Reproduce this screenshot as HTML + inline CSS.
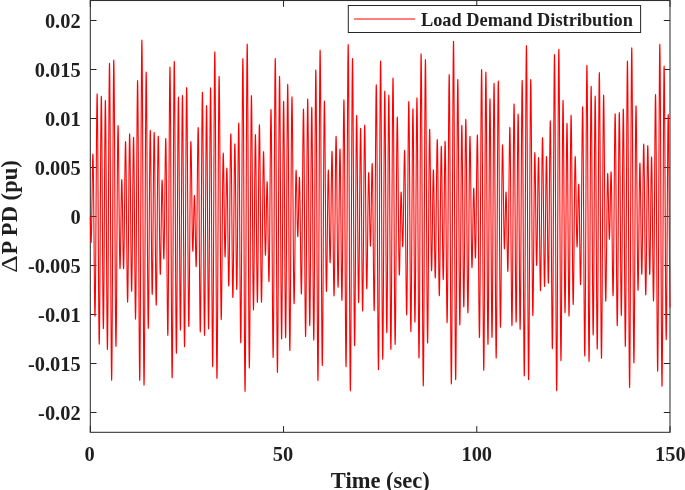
<!DOCTYPE html><html lang="en"><head><meta charset="utf-8"><title>Load Demand Distribution</title>
<style>html,body{margin:0;padding:0;background:#fff;overflow:hidden}svg{display:block}text{font-family:"Liberation Serif","Times New Roman",serif;font-weight:bold;fill:#1f1f1f}</style></head><body>
<svg width="685" height="490" viewBox="0 0 685 490">
<rect width="685" height="490" fill="#fff"/>
<rect x="90.30" y="0.55" width="579.70" height="431.75" fill="none" stroke="#262626" stroke-width="1"/>
<path d="M90.30 412.50h6.20M670.00 412.50h-6.20" stroke="#262626" stroke-width="1" fill="none"/>
<text x="80.6" y="420.10" text-anchor="end" font-size="20.4">-0.02</text>
<path d="M90.30 363.50h6.20M670.00 363.50h-6.20" stroke="#262626" stroke-width="1" fill="none"/>
<text x="80.6" y="371.10" text-anchor="end" font-size="20.4">-0.015</text>
<path d="M90.30 314.50h6.20M670.00 314.50h-6.20" stroke="#262626" stroke-width="1" fill="none"/>
<text x="80.6" y="322.10" text-anchor="end" font-size="20.4">-0.01</text>
<path d="M90.30 265.50h6.20M670.00 265.50h-6.20" stroke="#262626" stroke-width="1" fill="none"/>
<text x="80.6" y="273.10" text-anchor="end" font-size="20.4">-0.005</text>
<path d="M90.30 216.50h6.20M670.00 216.50h-6.20" stroke="#262626" stroke-width="1" fill="none"/>
<text x="80.6" y="224.10" text-anchor="end" font-size="20.4">0</text>
<path d="M90.30 167.50h6.20M670.00 167.50h-6.20" stroke="#262626" stroke-width="1" fill="none"/>
<text x="80.6" y="175.10" text-anchor="end" font-size="20.4">0.005</text>
<path d="M90.30 118.50h6.20M670.00 118.50h-6.20" stroke="#262626" stroke-width="1" fill="none"/>
<text x="80.6" y="126.10" text-anchor="end" font-size="20.4">0.01</text>
<path d="M90.30 69.50h6.20M670.00 69.50h-6.20" stroke="#262626" stroke-width="1" fill="none"/>
<text x="80.6" y="77.10" text-anchor="end" font-size="20.4">0.015</text>
<path d="M90.30 20.50h6.20M670.00 20.50h-6.20" stroke="#262626" stroke-width="1" fill="none"/>
<text x="80.6" y="28.10" text-anchor="end" font-size="20.4">0.02</text>
<path d="M90.30 432.30v-6.20M90.30 0.55v6.20" stroke="#262626" stroke-width="1" fill="none"/>
<text x="89.60" y="460.5" text-anchor="middle" font-size="20.4">0</text>
<path d="M283.53 432.30v-6.20M283.53 0.55v6.20" stroke="#262626" stroke-width="1" fill="none"/>
<text x="283.03" y="460.5" text-anchor="middle" font-size="20.4">50</text>
<path d="M476.77 432.30v-6.20M476.77 0.55v6.20" stroke="#262626" stroke-width="1" fill="none"/>
<text x="476.77" y="460.5" text-anchor="middle" font-size="20.4">100</text>
<path d="M670.00 432.30v-6.20M670.00 0.55v6.20" stroke="#262626" stroke-width="1" fill="none"/>
<text x="670.40" y="460.5" text-anchor="middle" font-size="20.4">150</text>
<polyline fill="none" stroke="#ff0000" stroke-width="1.08" stroke-linejoin="round" points="90.30,216.43 90.38,220.42 90.45,224.32 90.53,228.04 90.61,231.49 90.69,234.60 90.76,237.28 90.84,239.47 90.92,241.10 91.00,242.14 91.07,242.54 91.15,242.28 91.23,241.34 91.30,239.72 91.38,237.43 91.46,234.50 91.54,230.96 91.61,226.87 91.69,222.27 91.77,217.24 91.85,211.86 91.92,206.22 92.00,200.41 92.08,194.53 92.16,188.68 92.23,182.97 92.31,177.51 92.39,172.39 92.46,167.73 92.54,163.60 92.62,160.12 92.70,157.35 92.77,155.36 92.85,154.23 92.93,153.99 93.01,154.68 93.08,156.32 93.16,158.93 93.24,162.49 93.31,166.98 93.39,172.36 93.47,178.58 93.55,185.58 93.62,193.26 93.70,201.55 93.78,210.33 93.86,219.50 93.93,228.93 94.01,238.49 94.09,248.05 94.16,257.47 94.24,266.62 94.32,275.36 94.40,283.55 94.47,291.08 94.55,297.81 94.63,303.64 94.71,308.46 94.78,312.20 94.86,314.76 94.94,316.09 95.01,316.15 95.09,314.92 95.17,312.37 95.25,308.53 95.32,303.42 95.40,297.08 95.48,289.58 95.56,281.01 95.63,271.45 95.71,261.01 95.79,249.84 95.87,238.05 95.94,225.80 96.02,213.25 96.10,200.55 96.17,187.88 96.25,175.40 96.33,163.27 96.41,151.67 96.48,140.76 96.56,130.68 96.64,121.58 96.72,113.58 96.79,106.81 96.87,101.37 96.95,97.34 97.02,94.79 97.10,93.76 97.18,94.29 97.26,96.37 97.33,100.01 97.41,105.15 97.49,111.74 97.57,119.71 97.64,128.96 97.72,139.39 97.80,150.85 97.87,163.21 97.95,176.31 98.03,189.98 98.11,204.04 98.18,218.31 98.26,232.61 98.34,246.74 98.42,260.53 98.49,273.78 98.57,286.31 98.65,297.98 98.72,308.60 98.80,318.05 98.88,326.19 98.96,332.91 99.03,338.13 99.11,341.76 99.19,343.76 99.27,344.10 99.34,342.77 99.42,339.79 99.50,335.19 99.58,329.05 99.65,321.43 99.73,312.44 99.81,302.21 99.88,290.86 99.96,278.55 100.04,265.45 100.12,251.73 100.19,237.59 100.27,223.21 100.35,208.78 100.43,194.51 100.50,180.58 100.58,167.19 100.66,154.52 100.73,142.74 100.81,132.01 100.89,122.47 100.97,114.26 101.04,107.48 101.12,102.22 101.20,98.56 101.28,96.54 101.35,96.19 101.43,97.51 101.51,100.47 101.58,105.03 101.66,111.13 101.74,118.67 101.82,127.55 101.89,137.63 101.97,148.79 102.05,160.84 102.13,173.63 102.20,186.98 102.28,200.68 102.36,214.55 102.44,228.39 102.51,242.00 102.59,255.19 102.67,267.77 102.74,279.56 102.82,290.40 102.90,300.13 102.98,308.61 103.05,315.72 103.13,321.36 103.21,325.45 103.29,327.94 103.36,328.78 103.44,327.96 103.52,325.49 103.59,321.42 103.67,315.80 103.75,308.71 103.83,300.25 103.90,290.54 103.98,279.73 104.06,267.97 104.14,255.42 104.21,242.28 104.29,228.72 104.37,214.95 104.44,201.17 104.52,187.58 104.60,174.38 104.68,161.75 104.75,149.89 104.83,138.97 104.91,129.16 104.99,120.59 105.06,113.41 105.14,107.72 105.22,103.61 105.29,101.15 105.37,100.38 105.45,101.32 105.53,103.96 105.60,108.29 105.68,114.23 105.76,121.73 105.84,130.67 105.91,140.95 105.99,152.41 106.07,164.91 106.15,178.26 106.22,192.29 106.30,206.80 106.38,221.58 106.45,236.42 106.53,251.13 106.61,265.47 106.69,279.25 106.76,292.27 106.84,304.35 106.92,315.29 107.00,324.94 107.07,333.16 107.15,339.81 107.23,344.80 107.30,348.04 107.38,349.46 107.46,349.05 107.54,346.79 107.61,342.69 107.69,336.81 107.77,329.20 107.85,319.96 107.92,309.21 108.00,297.08 108.08,283.73 108.15,269.33 108.23,254.06 108.31,238.15 108.39,221.78 108.46,205.19 108.54,188.59 108.62,172.22 108.70,156.29 108.77,141.02 108.85,126.62 108.93,113.30 109.00,101.22 109.08,90.58 109.16,81.51 109.24,74.14 109.31,68.59 109.39,64.94 109.47,63.25 109.55,63.54 109.62,65.83 109.70,70.10 109.78,76.30 109.86,84.35 109.93,94.17 110.01,105.62 110.09,118.57 110.16,132.85 110.24,148.28 110.32,164.66 110.40,181.79 110.47,199.44 110.55,217.38 110.63,235.39 110.71,253.22 110.78,270.66 110.86,287.46 110.94,303.42 111.01,318.32 111.09,331.97 111.17,344.20 111.25,354.84 111.32,363.75 111.40,370.83 111.48,375.98 111.56,379.12 111.63,380.23 111.71,379.29 111.79,376.30 111.86,371.32 111.94,364.40 112.02,355.64 112.10,345.15 112.17,333.06 112.25,319.54 112.33,304.75 112.41,288.90 112.48,272.18 112.56,254.81 112.64,237.01 112.72,219.01 112.79,201.04 112.87,183.32 112.95,166.09 113.02,149.55 113.10,133.92 113.18,119.39 113.26,106.13 113.33,94.31 113.41,84.07 113.49,75.53 113.57,68.78 113.64,63.91 113.72,60.96 113.80,59.95 113.87,60.89 113.95,63.74 114.03,68.46 114.11,74.96 114.18,83.16 114.26,92.93 114.34,104.13 114.42,116.61 114.49,130.19 114.57,144.70 114.65,159.93 114.72,175.70 114.80,191.78 114.88,207.97 114.96,224.06 115.03,239.85 115.11,255.14 115.19,269.73 115.27,283.46 115.34,296.15 115.42,307.66 115.50,317.86 115.57,326.62 115.65,333.87 115.73,339.52 115.81,343.53 115.88,345.87 115.96,346.53 116.04,345.55 116.12,342.95 116.19,338.79 116.27,333.16 116.35,326.16 116.43,317.90 116.50,308.52 116.58,298.16 116.66,286.97 116.73,275.12 116.81,262.77 116.89,250.12 116.97,237.32 117.04,224.55 117.12,211.99 117.20,199.80 117.28,188.13 117.35,177.14 117.43,166.96 117.51,157.71 117.58,149.49 117.66,142.39 117.74,136.49 117.82,131.84 117.89,128.48 117.97,126.41 118.05,125.64 118.13,126.14 118.20,127.88 118.28,130.79 118.36,134.81 118.43,139.85 118.51,145.80 118.59,152.57 118.67,160.01 118.74,168.02 118.82,176.44 118.90,185.15 118.98,194.01 119.05,202.87 119.13,211.60 119.21,220.08 119.28,228.17 119.36,235.76 119.44,242.75 119.52,249.05 119.59,254.57 119.67,259.24 119.75,263.02 119.83,265.87 119.90,267.76 119.98,268.69 120.06,268.68 120.14,267.74 120.21,265.92 120.29,263.28 120.37,259.87 120.44,255.77 120.52,251.08 120.60,245.89 120.68,240.30 120.75,234.43 120.83,228.38 120.91,222.27 120.99,216.21 121.06,210.32 121.14,204.69 121.22,199.43 121.29,194.63 121.37,190.38 121.45,186.75 121.53,183.81 121.60,181.60 121.68,180.17 121.76,179.53 121.84,179.69 121.91,180.66 121.99,182.42 122.07,184.92 122.14,188.14 122.22,192.00 122.30,196.44 122.38,201.39 122.45,206.75 122.53,212.43 122.61,218.33 122.69,224.34 122.76,230.35 122.84,236.26 122.92,241.96 123.00,247.34 123.07,252.31 123.15,256.77 123.23,260.63 123.30,263.81 123.38,266.26 123.46,267.91 123.54,268.72 123.61,268.66 123.69,267.73 123.77,265.91 123.85,263.22 123.92,259.69 124.00,255.36 124.08,250.28 124.15,244.53 124.23,238.18 124.31,231.32 124.39,224.05 124.46,216.48 124.54,208.72 124.62,200.88 124.70,193.08 124.77,185.45 124.85,178.10 124.93,171.16 125.00,164.72 125.08,158.90 125.16,153.79 125.24,149.48 125.31,146.04 125.39,143.55 125.47,142.04 125.55,141.56 125.62,142.12 125.70,143.74 125.78,146.39 125.85,150.07 125.93,154.72 126.01,160.29 126.09,166.71 126.16,173.90 126.24,181.76 126.32,190.20 126.40,199.09 126.47,208.31 126.55,217.73 126.63,227.24 126.71,236.68 126.78,245.92 126.86,254.84 126.94,263.31 127.01,271.20 127.09,278.39 127.17,284.80 127.25,290.30 127.32,294.84 127.40,298.33 127.48,300.72 127.56,301.98 127.63,302.08 127.71,301.01 127.79,298.79 127.86,295.44 127.94,291.00 128.02,285.55 128.10,279.14 128.17,271.87 128.25,263.84 128.33,255.15 128.41,245.94 128.48,236.33 128.56,226.46 128.64,216.47 128.71,206.49 128.79,196.67 128.87,187.15 128.95,178.07 129.02,169.55 129.10,161.72 129.18,154.69 129.26,148.56 129.33,143.41 129.41,139.32 129.49,136.34 129.57,134.52 129.64,133.89 129.72,134.44 129.80,136.18 129.87,139.06 129.95,143.05 130.03,148.09 130.11,154.11 130.18,161.00 130.26,168.66 130.34,176.99 130.42,185.86 130.49,195.13 130.57,204.66 130.65,214.31 130.72,223.94 130.80,233.40 130.88,242.56 130.96,251.26 131.03,259.38 131.11,266.79 131.19,273.40 131.27,279.08 131.34,283.76 131.42,287.37 131.50,289.85 131.57,291.16 131.65,291.28 131.73,290.21 131.81,287.96 131.88,284.57 131.96,280.08 132.04,274.57 132.12,268.11 132.19,260.82 132.27,252.79 132.35,244.15 132.42,235.03 132.50,225.58 132.58,215.94 132.66,206.26 132.73,196.70 132.81,187.40 132.89,178.51 132.97,170.18 133.04,162.55 133.12,155.72 133.20,149.83 133.28,144.97 133.35,141.23 133.43,138.67 133.51,137.35 133.58,137.31 133.66,138.54 133.74,141.06 133.82,144.84 133.89,149.82 133.97,155.96 134.05,163.16 134.13,171.33 134.20,180.36 134.28,190.12 134.36,200.47 134.43,211.26 134.51,222.33 134.59,233.51 134.67,244.64 134.74,255.55 134.82,266.07 134.90,276.04 134.98,285.29 135.05,293.68 135.13,301.06 135.21,307.33 135.28,312.35 135.36,316.04 135.44,318.32 135.52,319.14 135.59,318.46 135.67,316.26 135.75,312.56 135.83,307.38 135.90,300.78 135.98,292.82 136.06,283.61 136.13,273.24 136.21,261.85 136.29,249.59 136.37,236.62 136.44,223.11 136.52,209.24 136.60,195.20 136.68,181.18 136.75,167.39 136.83,154.02 136.91,141.25 136.99,129.29 137.06,118.30 137.14,108.45 137.22,99.89 137.29,92.77 137.37,87.19 137.45,83.26 137.53,81.05 137.60,80.62 137.68,81.99 137.76,85.18 137.84,90.16 137.91,96.90 137.99,105.31 138.07,115.32 138.14,126.80 138.22,139.63 138.30,153.64 138.38,168.67 138.45,184.52 138.53,201.01 138.61,217.91 138.69,235.01 138.76,252.08 138.84,268.91 138.92,285.26 138.99,300.92 139.07,315.68 139.15,329.33 139.23,341.68 139.30,352.57 139.38,361.84 139.46,369.35 139.54,374.99 139.61,378.68 139.69,380.34 139.77,379.95 139.85,377.48 139.92,372.97 140.00,366.44 140.08,357.98 140.15,347.67 140.23,335.64 140.31,322.03 140.39,307.01 140.46,290.76 140.54,273.47 140.62,255.38 140.70,236.69 140.77,217.66 140.85,198.52 140.93,179.51 141.00,160.87 141.08,142.85 141.16,125.67 141.24,109.56 141.31,94.73 141.39,81.36 141.47,69.63 141.55,59.69 141.62,51.68 141.70,45.69 141.78,41.80 141.85,40.08 141.93,40.53 142.01,43.17 142.09,47.95 142.16,54.82 142.24,63.68 142.32,74.43 142.40,86.94 142.47,101.03 142.55,116.54 142.63,133.26 142.70,150.98 142.78,169.48 142.86,188.52 142.94,207.85 143.01,227.24 143.09,246.43 143.17,265.18 143.25,283.27 143.32,300.45 143.40,316.52 143.48,331.28 143.56,344.54 143.63,356.14 143.71,365.95 143.79,373.84 143.86,379.72 143.94,383.54 144.02,385.24 144.10,384.84 144.17,382.33 144.25,377.77 144.33,371.22 144.41,362.79 144.48,352.59 144.56,340.77 144.64,327.49 144.71,312.93 144.79,297.28 144.87,280.77 144.95,263.61 145.02,246.02 145.10,228.23 145.18,210.48 145.26,193.00 145.33,176.00 145.41,159.71 145.49,144.33 145.56,130.06 145.64,117.06 145.72,105.49 145.80,95.49 145.87,87.17 145.95,80.62 146.03,75.92 146.11,73.09 146.18,72.16 146.26,73.12 146.34,75.93 146.41,80.53 146.49,86.83 146.57,94.74 146.65,104.13 146.72,114.85 146.80,126.75 146.88,139.64 146.96,153.34 147.03,167.66 147.11,182.39 147.19,197.32 147.27,212.26 147.34,227.00 147.42,241.34 147.50,255.10 147.57,268.08 147.65,280.12 147.73,291.08 147.81,300.81 147.88,309.19 147.96,316.14 148.04,321.58 148.12,325.44 148.19,327.71 148.27,328.37 148.35,327.45 148.42,324.96 148.50,320.98 148.58,315.59 148.66,308.87 148.73,300.95 148.81,291.96 148.89,282.05 148.97,271.37 149.04,260.08 149.12,248.37 149.20,236.40 149.27,224.36 149.35,212.42 149.43,200.76 149.51,189.55 149.58,178.94 149.66,169.08 149.74,160.12 149.82,152.16 149.89,145.33 149.97,139.70 150.05,135.34 150.13,132.31 150.20,130.64 150.28,130.32 150.36,131.36 150.43,133.72 150.51,137.36 150.59,142.19 150.67,148.14 150.74,155.10 150.82,162.96 150.90,171.58 150.98,180.84 151.05,190.57 151.13,200.63 151.21,210.86 151.28,221.10 151.36,231.19 151.44,240.97 151.52,250.30 151.59,259.03 151.67,267.04 151.75,274.20 151.83,280.41 151.90,285.57 151.98,289.61 152.06,292.47 152.13,294.11 152.21,294.52 152.29,293.67 152.37,291.60 152.44,288.34 152.52,283.93 152.60,278.45 152.68,271.99 152.75,264.64 152.83,256.51 152.91,247.74 152.98,238.45 153.06,228.78 153.14,218.88 153.22,208.91 153.29,199.00 153.37,189.32 153.45,180.00 153.53,171.19 153.60,163.01 153.68,155.60 153.76,149.06 153.84,143.49 153.91,138.97 153.99,135.58 154.07,133.36 154.14,132.35 154.22,132.56 154.30,134.00 154.38,136.65 154.45,140.46 154.53,145.38 154.61,151.35 154.69,158.28 154.76,166.07 154.84,174.61 154.92,183.77 154.99,193.43 155.07,203.45 155.15,213.68 155.23,223.98 155.30,234.20 155.38,244.19 155.46,253.83 155.54,262.96 155.61,271.47 155.69,279.22 155.77,286.12 155.84,292.06 155.92,296.97 156.00,300.78 156.08,303.44 156.15,304.90 156.23,305.17 156.31,304.22 156.39,302.09 156.46,298.81 156.54,294.42 156.62,289.00 156.69,282.61 156.77,275.36 156.85,267.35 156.93,258.69 157.00,249.51 157.08,239.95 157.16,230.12 157.24,220.18 157.31,210.26 157.39,200.50 157.47,191.03 157.55,181.98 157.62,173.48 157.70,165.64 157.78,158.56 157.85,152.33 157.93,147.03 158.01,142.73 158.09,139.47 158.16,137.30 158.24,136.22 158.32,136.24 158.40,137.35 158.47,139.52 158.55,142.70 158.63,146.83 158.70,151.84 158.78,157.66 158.86,164.18 158.94,171.30 159.01,178.91 159.09,186.89 159.17,195.12 159.25,203.48 159.32,211.84 159.40,220.08 159.48,228.08 159.55,235.73 159.63,242.92 159.71,249.54 159.79,255.53 159.86,260.78 159.94,265.25 160.02,268.87 160.10,271.60 160.17,273.43 160.25,274.35 160.33,274.34 160.41,273.45 160.48,271.69 160.56,269.11 160.64,265.78 160.71,261.75 160.79,257.12 160.87,251.97 160.95,246.39 161.02,240.49 161.10,234.37 161.18,228.14 161.26,221.92 161.33,215.80 161.41,209.89 161.49,204.30 161.56,199.11 161.64,194.42 161.72,190.29 161.80,186.80 161.87,184.00 161.95,181.94 162.03,180.64 162.11,180.12 162.18,180.39 162.26,181.43 162.34,183.21 162.41,185.71 162.49,188.86 162.57,192.62 162.65,196.90 162.72,201.62 162.80,206.69 162.88,212.03 162.96,217.51 163.03,223.04 163.11,228.52 163.19,233.83 163.26,238.87 163.34,243.53 163.42,247.73 163.50,251.38 163.57,254.38 163.65,256.69 163.73,258.23 163.81,258.95 163.88,258.84 163.96,257.86 164.04,256.02 164.12,253.32 164.19,249.79 164.27,245.48 164.35,240.42 164.42,234.70 164.50,228.39 164.58,221.58 164.66,214.38 164.73,206.89 164.81,199.23 164.89,191.53 164.97,183.91 165.04,176.50 165.12,169.43 165.20,162.81 165.27,156.78 165.35,151.44 165.43,146.89 165.51,143.25 165.58,140.58 165.66,138.96 165.74,138.44 165.82,139.07 165.89,140.87 165.97,143.84 166.05,147.97 166.12,153.24 166.20,159.59 166.28,166.98 166.36,175.30 166.43,184.48 166.51,194.39 166.59,204.92 166.67,215.93 166.74,227.27 166.82,238.80 166.90,250.36 166.97,261.78 167.05,272.89 167.13,283.55 167.21,293.59 167.28,302.85 167.36,311.20 167.44,318.49 167.52,324.61 167.59,329.45 167.67,332.91 167.75,334.93 167.83,335.44 167.90,334.40 167.98,331.81 168.06,327.67 168.13,322.00 168.21,314.86 168.29,306.30 168.37,296.43 168.44,285.36 168.52,273.19 168.60,260.09 168.68,246.20 168.75,231.70 168.83,216.77 168.91,201.60 168.98,186.38 169.06,171.31 169.14,156.59 169.22,142.41 169.29,128.98 169.37,116.46 169.45,105.03 169.53,94.86 169.60,86.10 169.68,78.86 169.76,73.27 169.83,69.40 169.91,67.34 169.99,67.12 170.07,68.76 170.14,72.27 170.22,77.61 170.30,84.73 170.38,93.56 170.45,103.99 170.53,115.91 170.61,129.18 170.69,143.63 170.76,159.09 170.84,175.37 170.92,192.27 170.99,209.57 171.07,227.05 171.15,244.50 171.23,261.69 171.30,278.40 171.38,294.41 171.46,309.52 171.54,323.53 171.61,336.25 171.69,347.53 171.77,357.20 171.84,365.14 171.92,371.25 172.00,375.44 172.08,377.65 172.15,377.85 172.23,376.04 172.31,372.22 172.39,366.45 172.46,358.81 172.54,349.37 172.62,338.28 172.69,325.65 172.77,311.67 172.85,296.50 172.93,280.34 173.00,263.40 173.08,245.89 173.16,228.05 173.24,210.10 173.31,192.28 173.39,174.81 173.47,157.92 173.54,141.82 173.62,126.73 173.70,112.83 173.78,100.31 173.85,89.32 173.93,80.00 174.01,72.47 174.09,66.82 174.16,63.11 174.24,61.39 174.32,61.67 174.40,63.95 174.47,68.18 174.55,74.30 174.63,82.22 174.70,91.83 174.78,102.99 174.86,115.55 174.94,129.34 175.01,144.17 175.09,159.83 175.17,176.12 175.25,192.81 175.32,209.68 175.40,226.50 175.48,243.05 175.55,259.11 175.63,274.47 175.71,288.92 175.79,302.28 175.86,314.37 175.94,325.04 176.02,334.15 176.10,341.60 176.17,347.28 176.25,351.14 176.33,353.13 176.40,353.25 176.48,351.49 176.56,347.91 176.64,342.56 176.71,335.52 176.79,326.91 176.87,316.85 176.95,305.50 177.02,293.03 177.10,279.60 177.18,265.42 177.25,250.68 177.33,235.61 177.41,220.40 177.49,205.28 177.56,190.46 177.64,176.14 177.72,162.52 177.80,149.79 177.87,138.12 177.95,127.67 178.03,118.59 178.11,110.99 178.18,104.97 178.26,100.61 178.34,97.96 178.41,97.05 178.49,97.88 178.57,100.43 178.65,104.66 178.72,110.50 178.80,117.85 178.88,126.61 178.96,136.64 179.03,147.79 179.11,159.89 179.19,172.77 179.26,186.23 179.34,200.09 179.42,214.13 179.50,228.16 179.57,241.97 179.65,255.36 179.73,268.14 179.81,280.13 179.88,291.15 179.96,301.04 180.04,309.66 180.11,316.89 180.19,322.63 180.27,326.80 180.35,329.33 180.42,330.18 180.50,329.36 180.58,326.87 180.66,322.74 180.73,317.04 180.81,309.85 180.89,301.27 180.97,291.43 181.04,280.46 181.12,268.52 181.20,255.78 181.27,242.43 181.35,228.66 181.43,214.65 181.51,200.62 181.58,186.76 181.66,173.28 181.74,160.35 181.82,148.18 181.89,136.93 181.97,126.76 182.05,117.83 182.12,110.25 182.20,104.15 182.28,99.60 182.36,96.69 182.43,95.45 182.51,95.90 182.59,98.05 182.67,101.86 182.74,107.29 182.82,114.27 182.90,122.70 182.97,132.47 183.05,143.45 183.13,155.49 183.21,168.42 183.28,182.08 183.36,196.26 183.44,210.79 183.52,225.46 183.59,240.07 183.67,254.42 183.75,268.32 183.82,281.57 183.90,294.00 183.98,305.44 184.06,315.72 184.13,324.71 184.21,332.29 184.29,338.36 184.37,342.82 184.44,345.62 184.52,346.73 184.60,346.12 184.68,343.81 184.75,339.82 184.83,334.21 184.91,327.05 184.98,318.44 185.06,308.50 185.14,297.36 185.22,285.16 185.29,272.08 185.37,258.28 185.45,243.95 185.53,229.27 185.60,214.45 185.68,199.67 185.76,185.13 185.83,171.02 185.91,157.53 185.99,144.82 186.07,133.06 186.14,122.40 186.22,112.98 186.30,104.91 186.38,98.29 186.45,93.19 186.53,89.69 186.61,87.80 186.68,87.56 186.76,88.94 186.84,91.92 186.92,96.46 186.99,102.48 187.07,109.89 187.15,118.58 187.23,128.43 187.30,139.31 187.38,151.06 187.46,163.52 187.54,176.53 187.61,189.91 187.69,203.48 187.77,217.06 187.84,230.48 187.92,243.57 188.00,256.16 188.08,268.09 188.15,279.22 188.23,289.41 188.31,298.54 188.39,306.50 188.46,313.22 188.54,318.61 188.62,322.64 188.69,325.26 188.77,326.46 188.85,326.26 188.93,324.67 189.00,321.75 189.08,317.55 189.16,312.15 189.24,305.65 189.31,298.14 189.39,289.76 189.47,280.63 189.54,270.89 189.62,260.67 189.70,250.13 189.78,239.42 189.85,228.68 189.93,218.05 190.01,207.69 190.09,197.72 190.16,188.27 190.24,179.46 190.32,171.39 190.39,164.15 190.47,157.83 190.55,152.49 190.63,148.17 190.70,144.90 190.78,142.71 190.86,141.60 190.94,141.54 191.01,142.50 191.09,144.45 191.17,147.32 191.25,151.03 191.32,155.52 191.40,160.68 191.48,166.42 191.55,172.62 191.63,179.19 191.71,185.99 191.79,192.93 191.86,199.88 191.94,206.74 192.02,213.39 192.10,219.74 192.17,225.70 192.25,231.17 192.33,236.09 192.40,240.39 192.48,244.02 192.56,246.95 192.64,249.14 192.71,250.59 192.79,251.30 192.87,251.27 192.95,250.55 193.02,249.16 193.10,247.16 193.18,244.60 193.25,241.56 193.33,238.12 193.41,234.35 193.49,230.34 193.56,226.19 193.64,221.99 193.72,217.83 193.80,213.80 193.87,210.00 193.95,206.49 194.03,203.36 194.10,200.69 194.18,198.52 194.26,196.90 194.34,195.89 194.41,195.50 194.49,195.76 194.57,196.65 194.65,198.19 194.72,200.34 194.80,203.07 194.88,206.33 194.96,210.07 195.03,214.23 195.11,218.73 195.19,223.48 195.26,228.40 195.34,233.40 195.42,238.37 195.50,243.23 195.57,247.86 195.65,252.18 195.73,256.09 195.81,259.51 195.88,262.34 195.96,264.53 196.04,266.00 196.11,266.70 196.19,266.59 196.27,265.65 196.35,263.85 196.42,261.19 196.50,257.69 196.58,253.37 196.66,248.27 196.73,242.46 196.81,235.98 196.89,228.93 196.96,221.40 197.04,213.47 197.12,205.27 197.20,196.91 197.27,188.50 197.35,180.18 197.43,172.06 197.51,164.29 197.58,156.97 197.66,150.22 197.74,144.17 197.82,138.92 197.89,134.57 197.97,131.19 198.05,128.86 198.12,127.65 198.20,127.60 198.28,128.72 198.36,131.05 198.43,134.57 198.51,139.25 198.59,145.07 198.67,151.95 198.74,159.84 198.82,168.65 198.90,178.26 198.97,188.57 199.05,199.45 199.13,210.76 199.21,222.35 199.28,234.09 199.36,245.80 199.44,257.34 199.52,268.53 199.59,279.24 199.67,289.31 199.75,298.60 199.82,306.96 199.90,314.28 199.98,320.45 200.06,325.37 200.13,328.95 200.21,331.14 200.29,331.89 200.37,331.17 200.44,328.97 200.52,325.32 200.60,320.24 200.67,313.78 200.75,306.02 200.83,297.05 200.91,286.97 200.98,275.92 201.06,264.02 201.14,251.42 201.22,238.30 201.29,224.81 201.37,211.13 201.45,197.45 201.53,183.93 201.60,170.77 201.68,158.14 201.76,146.20 201.83,135.11 201.91,125.04 201.99,116.11 202.07,108.45 202.14,102.16 202.22,97.34 202.30,94.05 202.38,92.34 202.45,92.24 202.53,93.75 202.61,96.86 202.68,101.53 202.76,107.71 202.84,115.30 202.92,124.21 202.99,134.33 203.07,145.52 203.15,157.64 203.23,170.51 203.30,183.97 203.38,197.83 203.46,211.92 203.53,226.03 203.61,239.99 203.69,253.59 203.77,266.67 203.84,279.03 203.92,290.51 204.00,300.95 204.08,310.22 204.15,318.19 204.23,324.76 204.31,329.82 204.38,333.32 204.46,335.21 204.54,335.46 204.62,334.08 204.69,331.09 204.77,326.53 204.85,320.47 204.93,312.99 205.00,304.20 205.08,294.22 205.16,283.21 205.24,271.30 205.31,258.68 205.39,245.52 205.47,232.01 205.54,218.34 205.62,204.69 205.70,191.28 205.78,178.27 205.85,165.87 205.93,154.24 206.01,143.55 206.09,133.95 206.16,125.58 206.24,118.55 206.32,112.96 206.39,108.90 206.47,106.42 206.55,105.56 206.63,106.32 206.70,108.69 206.78,112.65 206.86,118.13 206.94,125.05 207.01,133.32 207.09,142.81 207.17,153.39 207.24,164.91 207.32,177.19 207.40,190.06 207.48,203.34 207.55,216.82 207.63,230.32 207.71,243.63 207.79,256.57 207.86,268.94 207.94,280.56 208.02,291.25 208.10,300.86 208.17,309.25 208.25,316.28 208.33,321.85 208.40,325.88 208.48,328.29 208.56,329.04 208.64,328.12 208.71,325.53 208.79,321.29 208.87,315.47 208.95,308.14 209.02,299.40 209.10,289.36 209.18,278.16 209.25,265.96 209.33,252.93 209.41,239.25 209.49,225.11 209.56,210.72 209.64,196.27 209.72,181.99 209.80,168.06 209.87,154.70 209.95,142.10 210.03,130.45 210.10,119.92 210.18,110.66 210.26,102.82 210.34,96.52 210.41,91.87 210.49,88.94 210.57,87.78 210.65,88.43 210.72,90.90 210.80,95.15 210.88,101.16 210.95,108.84 211.03,118.11 211.11,128.85 211.19,140.92 211.26,154.16 211.34,168.41 211.42,183.47 211.50,199.15 211.57,215.22 211.65,231.49 211.73,247.71 211.81,263.68 211.88,279.17 211.96,293.97 212.04,307.87 212.11,320.68 212.19,332.21 212.27,342.31 212.35,350.81 212.42,357.61 212.50,362.59 212.58,365.68 212.66,366.82 212.73,365.98 212.81,363.17 212.89,358.40 212.96,351.73 213.04,343.24 213.12,333.03 213.20,321.22 213.27,307.96 213.35,293.41 213.43,277.77 213.51,261.23 213.58,244.01 213.66,226.32 213.74,208.40 213.81,190.48 213.89,172.79 213.97,155.57 214.05,139.04 214.12,123.41 214.20,108.90 214.28,95.69 214.36,83.97 214.43,73.88 214.51,65.56 214.59,59.12 214.66,54.65 214.74,52.21 214.82,51.83 214.90,53.53 214.97,57.28 215.05,63.04 215.13,70.73 215.21,80.26 215.28,91.50 215.36,104.32 215.44,118.55 215.52,134.00 215.59,150.48 215.67,167.78 215.75,185.67 215.82,203.93 215.90,222.33 215.98,240.62 216.06,258.59 216.13,275.99 216.21,292.62 216.29,308.25 216.37,322.70 216.44,335.79 216.52,347.36 216.60,357.26 216.67,365.38 216.75,371.61 216.83,375.90 216.91,378.20 216.98,378.48 217.06,376.75 217.14,373.06 217.22,367.45 217.29,360.01 217.37,350.84 217.45,340.08 217.52,327.87 217.60,314.38 217.68,299.79 217.76,284.28 217.83,268.08 217.91,251.38 217.99,234.41 218.07,217.38 218.14,200.50 218.22,184.01 218.30,168.09 218.38,152.95 218.45,138.77 218.53,125.72 218.61,113.96 218.68,103.62 218.76,94.81 218.84,87.64 218.92,82.17 218.99,78.46 219.07,76.52 219.15,76.36 219.23,77.96 219.30,81.27 219.38,86.22 219.46,92.73 219.53,100.68 219.61,109.97 219.69,120.43 219.77,131.92 219.84,144.27 219.92,157.31 220.00,170.85 220.08,184.71 220.15,198.70 220.23,212.63 220.31,226.32 220.38,239.59 220.46,252.27 220.54,264.22 220.62,275.27 220.69,285.31 220.77,294.21 220.85,301.88 220.93,308.24 221.00,313.24 221.08,316.84 221.16,319.01 221.23,319.75 221.31,319.10 221.39,317.09 221.47,313.78 221.54,309.24 221.62,303.57 221.70,296.87 221.78,289.27 221.85,280.89 221.93,271.87 222.01,262.36 222.09,252.50 222.16,242.45 222.24,232.36 222.32,222.37 222.39,212.62 222.47,203.27 222.55,194.42 222.63,186.21 222.70,178.74 222.78,172.10 222.86,166.37 222.94,161.61 223.01,157.87 223.09,155.18 223.17,153.55 223.24,152.99 223.32,153.46 223.40,154.95 223.48,157.38 223.55,160.71 223.63,164.84 223.71,169.70 223.79,175.19 223.86,181.19 223.94,187.60 224.02,194.28 224.09,201.14 224.17,208.03 224.25,214.85 224.33,221.48 224.40,227.79 224.48,233.70 224.56,239.09 224.64,243.89 224.71,248.02 224.79,251.41 224.87,254.02 224.94,255.80 225.02,256.74 225.10,256.82 225.18,256.06 225.25,254.48 225.33,252.11 225.41,249.00 225.49,245.21 225.56,240.82 225.64,235.90 225.72,230.55 225.80,224.87 225.87,218.96 225.95,212.93 226.03,206.90 226.10,200.96 226.18,195.23 226.26,189.82 226.34,184.83 226.41,180.34 226.49,176.45 226.57,173.23 226.65,170.74 226.72,169.05 226.80,168.18 226.88,168.16 226.95,169.02 227.03,170.73 227.11,173.30 227.19,176.68 227.26,180.84 227.34,185.72 227.42,191.24 227.50,197.33 227.57,203.89 227.65,210.83 227.73,218.05 227.80,225.42 227.88,232.83 227.96,240.18 228.04,247.33 228.11,254.18 228.19,260.60 228.27,266.51 228.35,271.79 228.42,276.35 228.50,280.12 228.58,283.02 228.66,285.00 228.73,286.02 228.81,286.04 228.89,285.05 228.96,283.05 229.04,280.06 229.12,276.10 229.20,271.23 229.27,265.51 229.35,259.00 229.43,251.80 229.51,243.99 229.58,235.70 229.66,227.02 229.74,218.09 229.81,209.02 229.89,199.96 229.97,191.02 230.05,182.33 230.12,174.03 230.20,166.24 230.28,159.06 230.36,152.61 230.43,146.98 230.51,142.27 230.59,138.53 230.66,135.84 230.74,134.23 230.82,133.73 230.90,134.36 230.97,136.12 231.05,138.98 231.13,142.91 231.21,147.85 231.28,153.75 231.36,160.52 231.44,168.06 231.51,176.28 231.59,185.06 231.67,194.28 231.75,203.80 231.82,213.50 231.90,223.23 231.98,232.85 232.06,242.24 232.13,251.26 232.21,259.77 232.29,267.66 232.37,274.82 232.44,281.14 232.52,286.53 232.60,290.92 232.67,294.24 232.75,296.45 232.83,297.52 232.91,297.44 232.98,296.20 233.06,293.83 233.14,290.36 233.22,285.85 233.29,280.37 233.37,273.99 233.45,266.82 233.52,258.96 233.60,250.53 233.68,241.65 233.76,232.46 233.83,223.10 233.91,213.70 233.99,204.41 234.07,195.36 234.14,186.69 234.22,178.54 234.30,171.01 234.37,164.23 234.45,158.30 234.53,153.30 234.61,149.30 234.68,146.38 234.76,144.57 234.84,143.90 234.92,144.37 234.99,145.99 235.07,148.72 235.15,152.52 235.23,157.33 235.30,163.08 235.38,169.67 235.46,177.01 235.53,184.98 235.61,193.46 235.69,202.31 235.77,211.40 235.84,220.57 235.92,229.70 236.00,238.62 236.08,247.20 236.15,255.31 236.23,262.80 236.31,269.56 236.38,275.48 236.46,280.45 236.54,284.39 236.62,287.22 236.69,288.91 236.77,289.40 236.85,288.68 236.93,286.75 237.00,283.63 237.08,279.35 237.16,273.98 237.23,267.58 237.31,260.25 237.39,252.08 237.47,243.20 237.54,233.73 237.62,223.82 237.70,213.62 237.78,203.28 237.85,192.96 237.93,182.82 238.01,173.02 238.08,163.72 238.16,155.07 238.24,147.20 238.32,140.26 238.39,134.36 238.47,129.61 238.55,126.10 238.63,123.90 238.70,123.08 238.78,123.65 238.86,125.65 238.94,129.05 239.01,133.85 239.09,139.98 239.17,147.38 239.24,155.97 239.32,165.63 239.40,176.25 239.48,187.69 239.55,199.79 239.63,212.40 239.71,225.33 239.79,238.41 239.86,251.45 239.94,264.27 240.02,276.68 240.09,288.50 240.17,299.54 240.25,309.65 240.33,318.67 240.40,326.44 240.48,332.85 240.56,337.77 240.64,341.13 240.71,342.84 240.79,342.86 240.87,341.17 240.94,337.75 241.02,332.63 241.10,325.86 241.18,317.50 241.25,307.65 241.33,296.41 241.41,283.92 241.49,270.33 241.56,255.81 241.64,240.54 241.72,224.71 241.79,208.53 241.87,192.21 241.95,175.97 242.03,160.02 242.10,144.58 242.18,129.86 242.26,116.06 242.34,103.37 242.41,91.98 242.49,82.04 242.57,73.71 242.65,67.11 242.72,62.34 242.80,59.49 242.88,58.61 242.95,59.73 243.03,62.86 243.11,67.97 243.19,75.01 243.26,83.92 243.34,94.59 243.42,106.89 243.50,120.69 243.57,135.81 243.65,152.07 243.73,169.28 243.80,187.21 243.88,205.64 243.96,224.34 244.04,243.07 244.11,261.59 244.19,279.66 244.27,297.06 244.35,313.54 244.42,328.91 244.50,342.96 244.58,355.49 244.65,366.36 244.73,375.41 244.81,382.52 244.89,387.59 244.96,390.55 245.04,391.37 245.12,390.01 245.20,386.50 245.27,380.87 245.35,373.20 245.43,363.56 245.51,352.09 245.58,338.92 245.66,324.22 245.74,308.18 245.81,291.00 245.89,272.89 245.97,254.08 246.05,234.82 246.12,215.33 246.20,195.89 246.28,176.72 246.36,158.06 246.43,140.17 246.51,123.26 246.59,107.54 246.66,93.21 246.74,80.44 246.82,69.41 246.90,60.23 246.97,53.03 247.05,47.89 247.13,44.86 247.21,43.97 247.28,45.24 247.36,48.63 247.44,54.09 247.51,61.54 247.59,70.88 247.67,81.98 247.75,94.68 247.82,108.83 247.90,124.22 247.98,140.65 248.06,157.91 248.13,175.77 248.21,194.00 248.29,212.36 248.36,230.61 248.44,248.53 248.52,265.87 248.60,282.43 248.67,298.00 248.75,312.37 248.83,325.39 248.91,336.89 248.98,346.73 249.06,354.80 249.14,361.02 249.22,365.32 249.29,367.66 249.37,368.03 249.45,366.45 249.52,362.95 249.60,357.62 249.68,350.52 249.76,341.78 249.83,331.53 249.91,319.92 249.99,307.13 250.07,293.32 250.14,278.71 250.22,263.50 250.30,247.88 250.37,232.09 250.45,216.33 250.53,200.81 250.61,185.74 250.68,171.32 250.76,157.73 250.84,145.15 250.92,133.73 250.99,123.62 251.07,114.94 251.15,107.77 251.22,102.21 251.30,98.31 251.38,96.09 251.46,95.57 251.53,96.73 251.61,99.52 251.69,103.89 251.77,109.76 251.84,117.01 251.92,125.53 252.00,135.18 252.07,145.81 252.15,157.26 252.23,169.34 252.31,181.88 252.38,194.69 252.46,207.58 252.54,220.38 252.62,232.88 252.69,244.93 252.77,256.35 252.85,266.98 252.93,276.67 253.00,285.31 253.08,292.77 253.16,298.97 253.23,303.82 253.31,307.27 253.39,309.30 253.47,309.88 253.54,309.03 253.62,306.78 253.70,303.17 253.78,298.27 253.85,292.18 253.93,285.00 254.01,276.85 254.08,267.86 254.16,258.17 254.24,247.95 254.32,237.34 254.39,226.52 254.47,215.65 254.55,204.90 254.63,194.43 254.70,184.40 254.78,174.95 254.86,166.24 254.93,158.38 255.01,151.49 255.09,145.68 255.17,141.01 255.24,137.57 255.32,135.39 255.40,134.51 255.48,134.93 255.55,136.64 255.63,139.60 255.71,143.78 255.79,149.09 255.86,155.47 255.94,162.80 256.02,170.97 256.09,179.87 256.17,189.34 256.25,199.25 256.33,209.44 256.40,219.77 256.48,230.07 256.56,240.19 256.64,249.98 256.71,259.29 256.79,267.99 256.87,275.93 256.94,283.00 257.02,289.10 257.10,294.13 257.18,298.02 257.25,300.72 257.33,302.17 257.41,302.36 257.49,301.28 257.56,298.95 257.64,295.39 257.72,290.67 257.79,284.85 257.87,278.00 257.95,270.24 258.03,261.67 258.10,252.41 258.18,242.60 258.26,232.38 258.34,221.89 258.41,211.28 258.49,200.72 258.57,190.33 258.64,180.28 258.72,170.71 258.80,161.75 258.88,153.53 258.95,146.17 259.03,139.76 259.11,134.41 259.19,130.17 259.26,127.11 259.34,125.28 259.42,124.69 259.50,125.35 259.57,127.26 259.65,130.37 259.73,134.64 259.80,140.02 259.88,146.42 259.96,153.75 260.04,161.90 260.11,170.77 260.19,180.22 260.27,190.12 260.35,200.33 260.42,210.71 260.50,221.12 260.58,231.40 260.65,241.43 260.73,251.06 260.81,260.17 260.89,268.63 260.96,276.33 261.04,283.16 261.12,289.06 261.20,293.93 261.27,297.72 261.35,300.39 261.43,301.91 261.50,302.28 261.58,301.50 261.66,299.59 261.74,296.59 261.81,292.56 261.89,287.57 261.97,281.69 262.05,275.02 262.12,267.67 262.20,259.74 262.28,251.36 262.35,242.65 262.43,233.74 262.51,224.75 262.59,215.82 262.66,207.07 262.74,198.63 262.82,190.61 262.90,183.12 262.97,176.25 263.05,170.11 263.13,164.75 263.21,160.25 263.28,156.65 263.36,154.00 263.44,152.31 263.51,151.59 263.59,151.82 263.67,152.99 263.75,155.06 263.82,157.98 263.90,161.68 263.98,166.09 264.06,171.13 264.13,176.70 264.21,182.70 264.29,189.03 264.36,195.58 264.44,202.24 264.52,208.89 264.60,215.43 264.67,221.75 264.75,227.76 264.83,233.35 264.91,238.44 264.98,242.95 265.06,246.82 265.14,250.00 265.21,252.43 265.29,254.10 265.37,254.98 265.45,255.08 265.52,254.41 265.60,252.99 265.68,250.86 265.76,248.06 265.83,244.67 265.91,240.76 265.99,236.39 266.07,231.67 266.14,226.68 266.22,221.53 266.30,216.31 266.37,211.14 266.45,206.11 266.53,201.32 266.61,196.87 266.68,192.85 266.76,189.34 266.84,186.42 266.92,184.15 266.99,182.59 267.07,181.77 267.15,181.73 267.22,182.47 267.30,184.01 267.38,186.32 267.46,189.39 267.53,193.16 267.61,197.59 267.69,202.61 267.77,208.13 267.84,214.09 267.92,220.37 268.00,226.87 268.07,233.48 268.15,240.09 268.23,246.58 268.31,252.84 268.38,258.74 268.46,264.18 268.54,269.05 268.62,273.24 268.69,276.67 268.77,279.25 268.85,280.92 268.92,281.62 269.00,281.30 269.08,279.94 269.16,277.53 269.23,274.07 269.31,269.59 269.39,264.12 269.47,257.72 269.54,250.45 269.62,242.40 269.70,233.67 269.78,224.37 269.85,214.62 269.93,204.55 270.01,194.31 270.08,184.03 270.16,173.87 270.24,163.97 270.32,154.49 270.39,145.57 270.47,137.35 270.55,129.97 270.63,123.55 270.70,118.22 270.78,114.06 270.86,111.16 270.93,109.60 271.01,109.42 271.09,110.66 271.17,113.34 271.24,117.45 271.32,122.96 271.40,129.83 271.48,137.99 271.55,147.36 271.63,157.84 271.71,169.31 271.78,181.63 271.86,194.65 271.94,208.21 272.02,222.15 272.09,236.28 272.17,250.42 272.25,264.38 272.33,277.98 272.40,291.03 272.48,303.35 272.56,314.76 272.63,325.11 272.71,334.25 272.79,342.04 272.87,348.35 272.94,353.08 273.02,356.16 273.10,357.52 273.18,357.12 273.25,354.95 273.33,351.02 273.41,345.34 273.49,337.98 273.56,329.02 273.64,318.55 273.72,306.69 273.79,293.58 273.87,279.38 273.95,264.26 274.03,248.41 274.10,232.01 274.18,215.29 274.26,198.44 274.34,181.69 274.41,165.25 274.49,149.33 274.57,134.14 274.64,119.88 274.72,106.73 274.80,94.88 274.88,84.48 274.95,75.67 275.03,68.58 275.11,63.29 275.19,59.90 275.26,58.44 275.34,58.95 275.42,61.43 275.49,65.85 275.57,72.16 275.65,80.29 275.73,90.14 275.80,101.59 275.88,114.49 275.96,128.68 276.04,143.99 276.11,160.21 276.19,177.15 276.27,194.58 276.35,212.28 276.42,230.02 276.50,247.59 276.58,264.74 276.65,281.26 276.73,296.93 276.81,311.56 276.89,324.96 276.96,336.96 277.04,347.39 277.12,356.13 277.20,363.07 277.27,368.13 277.35,371.23 277.43,372.34 277.50,371.46 277.58,368.59 277.66,363.79 277.74,357.12 277.81,348.68 277.89,338.57 277.97,326.95 278.05,313.96 278.12,299.78 278.20,284.60 278.28,268.63 278.35,252.08 278.43,235.18 278.51,218.14 278.59,201.19 278.66,184.56 278.74,168.47 278.82,153.13 278.90,138.73 278.97,125.48 279.05,113.53 279.13,103.04 279.20,94.14 279.28,86.94 279.36,81.54 279.44,77.98 279.51,76.32 279.59,76.55 279.67,78.67 279.75,82.63 279.82,88.38 279.90,95.81 279.98,104.82 280.06,115.27 280.13,127.01 280.21,139.88 280.29,153.68 280.36,168.23 280.44,183.31 280.52,198.71 280.60,214.22 280.67,229.62 280.75,244.70 280.83,259.25 280.91,273.07 280.98,285.97 281.06,297.77 281.14,308.33 281.21,317.49 281.29,325.13 281.37,331.17 281.45,335.51 281.52,338.12 281.60,338.95 281.68,338.02 281.76,335.34 281.83,330.96 281.91,324.95 281.99,317.40 282.06,308.44 282.14,298.20 282.22,286.82 282.30,274.48 282.37,261.36 282.45,247.64 282.53,233.54 282.61,219.25 282.68,204.99 282.76,190.95 282.84,177.34 282.91,164.36 282.99,152.18 283.07,140.99 283.15,130.95 283.22,122.19 283.30,114.84 283.38,109.01 283.46,104.78 283.53,102.21 283.61,101.32 283.69,102.15 283.77,104.66 283.84,108.82 283.92,114.58 284.00,121.85 284.07,130.52 284.15,140.47 284.23,151.55 284.31,163.62 284.38,176.48 284.46,189.97 284.54,203.88 284.62,218.01 284.69,232.17 284.77,246.15 284.85,259.75 284.92,272.77 285.00,285.03 285.08,296.35 285.16,306.57 285.23,315.54 285.31,323.12 285.39,329.21 285.47,333.72 285.54,336.58 285.62,337.74 285.70,337.19 285.77,334.92 285.85,330.97 285.93,325.38 286.01,318.22 286.08,309.61 286.16,299.64 286.24,288.45 286.32,276.21 286.39,263.06 286.47,249.20 286.55,234.81 286.63,220.10 286.70,205.25 286.78,190.48 286.86,175.99 286.93,161.98 287.01,148.64 287.09,136.16 287.17,124.71 287.24,114.44 287.32,105.50 287.40,98.01 287.48,92.08 287.55,87.78 287.63,85.19 287.71,84.34 287.78,85.24 287.86,87.88 287.94,92.22 288.02,98.22 288.09,105.80 288.17,114.84 288.25,125.24 288.33,136.86 288.40,149.53 288.48,163.10 288.56,177.38 288.63,192.19 288.71,207.32 288.79,222.58 288.87,237.76 288.94,252.68 289.02,267.12 289.10,280.90 289.18,293.85 289.25,305.79 289.33,316.57 289.41,326.06 289.48,334.12 289.56,340.67 289.64,345.63 289.72,348.92 289.79,350.52 289.87,350.41 289.95,348.61 290.03,345.14 290.10,340.06 290.18,333.43 290.26,325.37 290.34,315.97 290.41,305.37 290.49,293.72 290.57,281.16 290.64,267.88 290.72,254.05 290.80,239.84 290.88,225.45 290.95,211.07 291.03,196.88 291.11,183.06 291.19,169.79 291.26,157.23 291.34,145.54 291.42,134.86 291.49,125.32 291.57,117.03 291.65,110.07 291.73,104.54 291.80,100.48 291.88,97.92 291.96,96.88 292.04,97.35 292.11,99.30 292.19,102.70 292.27,107.47 292.34,113.53 292.42,120.78 292.50,129.12 292.58,138.40 292.65,148.51 292.73,159.28 292.81,170.57 292.89,182.22 292.96,194.06 293.04,205.95 293.12,217.72 293.19,229.21 293.27,240.29 293.35,250.81 293.43,260.64 293.50,269.66 293.58,277.78 293.66,284.91 293.74,290.96 293.81,295.89 293.89,299.65 293.97,302.23 294.05,303.61 294.12,303.80 294.20,302.84 294.28,300.77 294.35,297.65 294.43,293.56 294.51,288.56 294.59,282.77 294.66,276.29 294.74,269.23 294.82,261.71 294.90,253.86 294.97,245.79 295.05,237.64 295.13,229.53 295.20,221.57 295.28,213.89 295.36,206.58 295.44,199.75 295.51,193.49 295.59,187.87 295.67,182.96 295.75,178.81 295.82,175.46 295.90,172.94 295.98,171.25 296.05,170.39 296.13,170.35 296.21,171.09 296.29,172.57 296.36,174.74 296.44,177.53 296.52,180.88 296.60,184.68 296.67,188.87 296.75,193.35 296.83,198.01 296.91,202.77 296.98,207.52 297.06,212.17 297.14,216.64 297.21,220.82 297.29,224.64 297.37,228.04 297.45,230.94 297.52,233.29 297.60,235.06 297.68,236.21 297.76,236.71 297.83,236.58 297.91,235.81 297.99,234.41 298.06,232.44 298.14,229.91 298.22,226.90 298.30,223.46 298.37,219.65 298.45,215.57 298.53,211.30 298.61,206.92 298.68,202.53 298.76,198.23 298.84,194.10 298.91,190.23 298.99,186.73 299.07,183.66 299.15,181.11 299.22,179.14 299.30,177.82 299.38,177.19 299.46,177.29 299.53,178.15 299.61,179.78 299.69,182.17 299.76,185.32 299.84,189.20 299.92,193.76 300.00,198.96 300.07,204.72 300.15,210.98 300.23,217.64 300.31,224.61 300.38,231.78 300.46,239.06 300.54,246.32 300.62,253.45 300.69,260.34 300.77,266.87 300.85,272.92 300.92,278.39 301.00,283.17 301.08,287.19 301.16,290.34 301.23,292.56 301.31,293.79 301.39,293.99 301.47,293.11 301.54,291.16 301.62,288.11 301.70,284.00 301.77,278.84 301.85,272.70 301.93,265.63 302.01,257.70 302.08,249.02 302.16,239.68 302.24,229.81 302.32,219.52 302.39,208.95 302.47,198.23 302.55,187.53 302.62,176.97 302.70,166.71 302.78,156.90 302.86,147.67 302.93,139.16 303.01,131.50 303.09,124.81 303.17,119.19 303.24,114.73 303.32,111.51 303.40,109.60 303.48,109.04 303.55,109.86 303.63,112.05 303.71,115.62 303.78,120.53 303.86,126.74 303.94,134.17 304.02,142.74 304.09,152.35 304.17,162.89 304.25,174.22 304.33,186.21 304.40,198.69 304.48,211.51 304.56,224.51 304.63,237.50 304.71,250.33 304.79,262.81 304.87,274.78 304.94,286.08 305.02,296.56 305.10,306.06 305.18,314.46 305.25,321.65 305.33,327.50 305.41,331.95 305.48,334.93 305.56,336.38 305.64,336.29 305.72,334.64 305.79,331.46 305.87,326.77 305.95,320.64 306.03,313.15 306.10,304.38 306.18,294.45 306.26,283.50 306.33,271.66 306.41,259.09 306.49,245.96 306.57,232.45 306.64,218.73 306.72,204.99 306.80,191.42 306.88,178.19 306.95,165.49 307.03,153.49 307.11,142.35 307.19,132.22 307.26,123.24 307.34,115.54 307.42,109.21 307.49,104.34 307.57,101.00 307.65,99.23 307.73,99.06 307.80,100.49 307.88,103.49 307.96,108.03 308.04,114.03 308.11,121.42 308.19,130.09 308.27,139.91 308.34,150.75 308.42,162.46 308.50,174.87 308.58,187.81 308.65,201.10 308.73,214.54 308.81,227.95 308.89,241.14 308.96,253.93 309.04,266.13 309.12,277.58 309.19,288.10 309.27,297.56 309.35,305.82 309.43,312.77 309.50,318.29 309.58,322.33 309.66,324.82 309.74,325.73 309.81,325.04 309.89,322.77 309.97,318.95 310.04,313.64 310.12,306.91 310.20,298.86 310.28,289.61 310.35,279.29 310.43,268.05 310.51,256.06 310.59,243.48 310.66,230.50 310.74,217.32 310.82,204.12 310.90,191.09 310.97,178.43 311.05,166.32 311.13,154.94 311.20,144.46 311.28,135.04 311.36,126.81 311.44,119.90 311.51,114.42 311.59,110.45 311.67,108.06 311.75,107.28 311.82,108.14 311.90,110.63 311.98,114.72 312.05,120.35 312.13,127.46 312.21,135.95 312.29,145.70 312.36,156.58 312.44,168.43 312.52,181.09 312.60,194.37 312.67,208.10 312.75,222.06 312.83,236.07 312.90,249.92 312.98,263.40 313.06,276.32 313.14,288.49 313.21,299.73 313.29,309.86 313.37,318.74 313.45,326.23 313.52,332.20 313.60,336.56 313.68,339.24 313.76,340.19 313.83,339.36 313.91,336.77 313.99,332.43 314.06,326.39 314.14,318.72 314.22,309.52 314.30,298.89 314.37,286.98 314.45,273.94 314.53,259.95 314.61,245.18 314.68,229.85 314.76,214.15 314.84,198.31 314.91,182.53 314.99,167.05 315.07,152.06 315.15,137.79 315.22,124.44 315.30,112.19 315.38,101.23 315.46,91.71 315.53,83.77 315.61,77.54 315.69,73.11 315.76,70.56 315.84,69.94 315.92,71.26 316.00,74.53 316.07,79.72 316.15,86.77 316.23,95.60 316.31,106.11 316.38,118.16 316.46,131.61 316.54,146.29 316.61,162.01 316.69,178.57 316.77,195.75 316.85,213.34 316.92,231.10 317.00,248.80 317.08,266.20 317.16,283.09 317.23,299.23 317.31,314.41 317.39,328.42 317.47,341.09 317.54,352.23 317.62,361.69 317.70,369.36 317.77,375.11 317.85,378.87 317.93,380.59 318.01,380.23 318.08,377.79 318.16,373.31 318.24,366.82 318.32,358.41 318.39,348.19 318.47,336.28 318.55,322.83 318.62,308.01 318.70,292.02 318.78,275.05 318.86,257.31 318.93,239.05 319.01,220.48 319.09,201.85 319.17,183.39 319.24,165.35 319.32,147.94 319.40,131.39 319.47,115.91 319.55,101.69 319.63,88.92 319.71,77.75 319.78,68.32 319.86,60.75 319.94,55.13 320.02,51.52 320.09,49.96 320.17,50.47 320.25,53.04 320.32,57.61 320.40,64.13 320.48,72.51 320.56,82.62 320.63,94.34 320.71,107.51 320.79,121.95 320.87,137.47 320.94,153.87 321.02,170.93 321.10,188.44 321.18,206.17 321.25,223.90 321.33,241.39 321.41,258.43 321.48,274.81 321.56,290.32 321.64,304.78 321.72,318.01 321.79,329.84 321.87,340.16 321.95,348.83 322.03,355.76 322.10,360.89 322.18,364.17 322.26,365.57 322.33,365.09 322.41,362.77 322.49,358.66 322.57,352.83 322.64,345.37 322.72,336.40 322.80,326.06 322.88,314.50 322.95,301.88 323.03,288.38 323.11,274.19 323.18,259.50 323.26,244.51 323.34,229.42 323.42,214.42 323.49,199.72 323.57,185.49 323.65,171.92 323.73,159.17 323.80,147.39 323.88,136.74 323.96,127.32 324.04,119.24 324.11,112.58 324.19,107.40 324.27,103.75 324.34,101.65 324.42,101.09 324.50,102.05 324.58,104.49 324.65,108.34 324.73,113.53 324.81,119.95 324.89,127.49 324.96,136.03 325.04,145.42 325.12,155.52 325.19,166.17 325.27,177.21 325.35,188.47 325.43,199.81 325.50,211.04 325.58,222.02 325.66,232.60 325.74,242.63 325.81,251.99 325.89,260.56 325.97,268.22 326.04,274.90 326.12,280.52 326.20,285.02 326.28,288.37 326.35,290.55 326.43,291.54 326.51,291.38 326.59,290.09 326.66,287.71 326.74,284.32 326.82,279.99 326.89,274.82 326.97,268.90 327.05,262.35 327.13,255.29 327.20,247.84 327.28,240.14 327.36,232.31 327.44,224.49 327.51,216.80 327.59,209.37 327.67,202.31 327.75,195.74 327.82,189.75 327.90,184.44 327.98,179.87 328.05,176.12 328.13,173.22 328.21,171.23 328.29,170.15 328.36,169.98 328.44,170.72 328.52,172.34 328.60,174.79 328.67,178.03 328.75,181.98 328.83,186.57 328.90,191.70 328.98,197.28 329.06,203.21 329.14,209.37 329.21,215.66 329.29,221.95 329.37,228.13 329.45,234.09 329.52,239.73 329.60,244.94 329.68,249.63 329.75,253.71 329.83,257.10 329.91,259.75 329.99,261.59 330.06,262.60 330.14,262.75 330.22,262.03 330.30,260.44 330.37,258.00 330.45,254.76 330.53,250.74 330.60,246.02 330.68,240.67 330.76,234.77 330.84,228.41 330.91,221.69 330.99,214.72 331.07,207.62 331.15,200.49 331.22,193.46 331.30,186.64 331.38,180.14 331.46,174.07 331.53,168.54 331.61,163.64 331.69,159.46 331.76,156.07 331.84,153.54 331.92,151.93 332.00,151.26 332.07,151.57 332.15,152.85 332.23,155.11 332.31,158.33 332.38,162.46 332.46,167.45 332.54,173.25 332.61,179.78 332.69,186.94 332.77,194.64 332.85,202.78 332.92,211.23 333.00,219.87 333.08,228.58 333.16,237.24 333.23,245.71 333.31,253.88 333.39,261.62 333.46,268.81 333.54,275.35 333.62,281.13 333.70,286.07 333.77,290.10 333.85,293.13 333.93,295.13 334.01,296.06 334.08,295.90 334.16,294.65 334.24,292.31 334.32,288.92 334.39,284.51 334.47,279.14 334.55,272.89 334.62,265.85 334.70,258.10 334.78,249.76 334.86,240.94 334.93,231.76 335.01,222.37 335.09,212.88 335.17,203.43 335.24,194.16 335.32,185.19 335.40,176.67 335.47,168.70 335.55,161.40 335.63,154.88 335.71,149.22 335.78,144.52 335.86,140.83 335.94,138.21 336.02,136.70 336.09,136.30 336.17,137.04 336.25,138.89 336.32,141.83 336.40,145.81 336.48,150.78 336.56,156.65 336.63,163.34 336.71,170.74 336.79,178.76 336.87,187.27 336.94,196.14 337.02,205.24 337.10,214.44 337.17,223.60 337.25,232.58 337.33,241.25 337.41,249.48 337.48,257.15 337.56,264.15 337.64,270.37 337.72,275.73 337.79,280.13 337.87,283.53 337.95,285.87 338.03,287.12 338.10,287.26 338.18,286.29 338.26,284.23 338.33,281.12 338.41,277.01 338.49,271.95 338.57,266.04 338.64,259.37 338.72,252.04 338.80,244.16 338.88,235.87 338.95,227.29 339.03,218.56 339.11,209.82 339.18,201.20 339.26,192.85 339.34,184.90 339.42,177.48 339.49,170.70 339.57,164.68 339.65,159.52 339.73,155.31 339.80,152.11 339.88,149.99 339.96,148.98 340.03,149.11 340.11,150.39 340.19,152.79 340.27,156.30 340.34,160.87 340.42,166.43 340.50,172.89 340.58,180.18 340.65,188.17 340.73,196.75 340.81,205.78 340.88,215.13 340.96,224.66 341.04,234.21 341.12,243.63 341.19,252.76 341.27,261.47 341.35,269.61 341.43,277.04 341.50,283.63 341.58,289.27 341.66,293.86 341.74,297.30 341.81,299.52 341.89,300.48 341.97,300.13 342.04,298.46 342.12,295.46 342.20,291.18 342.28,285.63 342.35,278.90 342.43,271.05 342.51,262.19 342.59,252.42 342.66,241.89 342.74,230.73 342.82,219.10 342.89,207.16 342.97,195.08 343.05,183.04 343.13,171.20 343.20,159.76 343.28,148.87 343.36,138.71 343.44,129.44 343.51,121.21 343.59,114.14 343.67,108.38 343.74,104.01 343.82,101.12 343.90,99.79 343.98,100.05 344.05,101.93 344.13,105.44 344.21,110.54 344.29,117.20 344.36,125.34 344.44,134.89 344.52,145.73 344.60,157.73 344.67,170.74 344.75,184.61 344.83,199.16 344.90,214.20 344.98,229.53 345.06,244.95 345.14,260.26 345.21,275.25 345.29,289.70 345.37,303.42 345.45,316.22 345.52,327.92 345.60,338.33 345.68,347.31 345.75,354.73 345.83,360.46 345.91,364.40 345.99,366.49 346.06,366.67 346.14,364.92 346.22,361.24 346.30,355.66 346.37,348.24 346.45,339.04 346.53,328.16 346.60,315.75 346.68,301.93 346.76,286.88 346.84,270.79 346.91,253.84 346.99,236.25 347.07,218.24 347.15,200.05 347.22,181.89 347.30,164.02 347.38,146.65 347.45,130.02 347.53,114.35 347.61,99.84 347.69,86.68 347.76,75.05 347.84,65.11 347.92,57.00 348.00,50.83 348.07,46.69 348.15,44.64 348.23,44.72 348.31,46.93 348.38,51.26 348.46,57.66 348.54,66.06 348.61,76.36 348.69,88.43 348.77,102.13 348.85,117.29 348.92,133.71 349.00,151.20 349.08,169.53 349.16,188.47 349.23,207.79 349.31,227.23 349.39,246.57 349.46,265.54 349.54,283.91 349.62,301.44 349.70,317.92 349.77,333.14 349.85,346.89 349.93,359.02 350.01,369.37 350.08,377.81 350.16,384.23 350.24,388.55 350.31,390.73 350.39,390.75 350.47,388.60 350.55,384.32 350.62,377.96 350.70,369.63 350.78,359.42 350.86,347.48 350.93,333.97 351.01,319.05 351.09,302.93 351.17,285.82 351.24,267.93 351.32,249.51 351.40,230.79 351.47,212.01 351.55,193.41 351.63,175.23 351.71,157.70 351.78,141.04 351.86,125.45 351.94,111.13 352.02,98.26 352.09,87.00 352.17,77.46 352.25,69.77 352.32,64.01 352.40,60.24 352.48,58.49 352.56,58.77 352.63,61.06 352.71,65.31 352.79,71.44 352.87,79.36 352.94,88.95 353.02,100.07 353.10,112.56 353.17,126.23 353.25,140.91 353.33,156.38 353.41,172.44 353.48,188.85 353.56,205.42 353.64,221.90 353.72,238.09 353.79,253.77 353.87,268.74 353.95,282.80 354.02,295.79 354.10,307.53 354.18,317.89 354.26,326.74 354.33,333.98 354.41,339.53 354.49,343.35 354.57,345.39 354.64,345.65 354.72,344.16 354.80,340.95 354.88,336.10 354.95,329.69 355.03,321.82 355.11,312.63 355.18,302.27 355.26,290.89 355.34,278.66 355.42,265.77 355.49,252.40 355.57,238.76 355.65,225.03 355.73,211.41 355.80,198.10 355.88,185.27 355.96,173.11 356.03,161.77 356.11,151.42 356.19,142.18 356.27,134.17 356.34,127.50 356.42,122.25 356.50,118.46 356.58,116.18 356.65,115.42 356.73,116.18 356.81,118.42 356.88,122.10 356.96,127.14 357.04,133.45 357.12,140.93 357.19,149.44 357.27,158.86 357.35,169.04 357.43,179.80 357.50,190.99 357.58,202.44 357.66,213.97 357.73,225.40 357.81,236.57 357.89,247.30 357.97,257.45 358.04,266.87 358.12,275.40 358.20,282.95 358.28,289.39 358.35,294.64 358.43,298.62 358.51,301.29 358.59,302.61 358.66,302.56 358.74,301.17 358.82,298.45 358.89,294.45 358.97,289.25 359.05,282.91 359.13,275.55 359.20,267.28 359.28,258.23 359.36,248.54 359.44,238.35 359.51,227.82 359.59,217.11 359.67,206.39 359.74,195.81 359.82,185.53 359.90,175.71 359.98,166.50 360.05,158.03 360.13,150.42 360.21,143.80 360.29,138.26 360.36,133.88 360.44,130.73 360.52,128.86 360.59,128.29 360.67,129.02 360.75,131.07 360.83,134.38 360.90,138.92 360.98,144.62 361.06,151.40 361.14,159.15 361.21,167.78 361.29,177.14 361.37,187.11 361.45,197.55 361.52,208.30 361.60,219.22 361.68,230.13 361.75,240.89 361.83,251.34 361.91,261.34 361.99,270.74 362.06,279.40 362.14,287.21 362.22,294.05 362.30,299.83 362.37,304.46 362.45,307.89 362.53,310.06 362.60,310.94 362.68,310.53 362.76,308.82 362.84,305.85 362.91,301.66 362.99,296.31 363.07,289.87 363.15,282.44 363.22,274.13 363.30,265.04 363.38,255.31 363.45,245.08 363.53,234.48 363.61,223.67 363.69,212.79 363.76,202.00 363.84,191.44 363.92,181.25 364.00,171.58 364.07,162.55 364.15,154.28 364.23,146.89 364.30,140.46 364.38,135.08 364.46,130.81 364.54,127.71 364.61,125.81 364.69,125.13 364.77,125.65 364.85,127.38 364.92,130.26 365.00,134.25 365.08,139.29 365.16,145.29 365.23,152.16 365.31,159.80 365.39,168.09 365.46,176.91 365.54,186.14 365.62,195.63 365.70,205.26 365.77,214.88 365.85,224.37 365.93,233.60 366.01,242.43 366.08,250.76 366.16,258.47 366.24,265.47 366.31,271.66 366.39,276.98 366.47,281.36 366.55,284.76 366.62,287.14 366.70,288.50 366.78,288.82 366.86,288.14 366.93,286.47 367.01,283.86 367.09,280.37 367.16,276.08 367.24,271.05 367.32,265.38 367.40,259.17 367.47,252.53 367.55,245.56 367.63,238.39 367.71,231.12 367.78,223.87 367.86,216.75 367.94,209.88 368.01,203.35 368.09,197.26 368.17,191.70 368.25,186.75 368.32,182.47 368.40,178.91 368.48,176.12 368.56,174.12 368.63,172.94 368.71,172.56 368.79,172.99 368.87,174.18 368.94,176.11 369.02,178.72 369.10,181.95 369.17,185.73 369.25,189.97 369.33,194.59 369.41,199.50 369.48,204.60 369.56,209.78 369.64,214.95 369.72,220.00 369.79,224.84 369.87,229.37 369.95,233.50 370.02,237.16 370.10,240.28 370.18,242.78 370.26,244.63 370.33,245.77 370.41,246.19 370.49,245.88 370.57,244.82 370.64,243.04 370.72,240.56 370.80,237.43 370.87,233.69 370.95,229.41 371.03,224.66 371.11,219.53 371.18,214.11 371.26,208.49 371.34,202.79 371.42,197.11 371.49,191.55 371.57,186.22 371.65,181.24 371.73,176.70 371.80,172.70 371.88,169.33 371.96,166.67 372.03,164.79 372.11,163.75 372.19,163.59 372.27,164.35 372.34,166.04 372.42,168.67 372.50,172.23 372.58,176.68 372.65,181.99 372.73,188.09 372.81,194.91 372.88,202.38 372.96,210.38 373.04,218.82 373.12,227.57 373.19,236.51 373.27,245.51 373.35,254.43 373.43,263.13 373.50,271.49 373.58,279.35 373.66,286.60 373.73,293.10 373.81,298.75 373.89,303.42 373.97,307.04 374.04,309.51 374.12,310.77 374.20,310.78 374.28,309.49 374.35,306.89 374.43,302.99 374.51,297.81 374.58,291.39 374.66,283.79 374.74,275.09 374.82,265.37 374.89,254.76 374.97,243.38 375.05,231.36 375.13,218.86 375.20,206.04 375.28,193.05 375.36,180.08 375.44,167.30 375.51,154.88 375.59,143.00 375.67,131.83 375.74,121.52 375.82,112.23 375.90,104.09 375.98,97.25 376.05,91.80 376.13,87.85 376.21,85.46 376.29,84.70 376.36,85.60 376.44,88.17 376.52,92.40 376.59,98.26 376.67,105.70 376.75,114.64 376.83,124.98 376.90,136.61 376.98,149.39 377.06,163.17 377.14,177.78 377.21,193.05 377.29,208.79 377.37,224.79 377.44,240.85 377.52,256.77 377.60,272.34 377.68,287.36 377.75,301.63 377.83,314.96 377.91,327.17 377.99,338.10 378.06,347.59 378.14,355.51 378.22,361.75 378.29,366.22 378.37,368.85 378.45,369.59 378.53,368.43 378.60,365.36 378.68,360.41 378.76,353.65 378.84,345.14 378.91,334.99 378.99,323.32 379.07,310.28 379.15,296.02 379.22,280.72 379.30,264.58 379.38,247.80 379.45,230.59 379.53,213.17 379.61,195.78 379.69,178.62 379.76,161.92 379.84,145.90 379.92,130.76 380.00,116.70 380.07,103.90 380.15,92.53 380.23,82.73 380.30,74.63 380.38,68.34 380.46,63.93 380.54,61.46 380.61,60.97 380.69,62.45 380.77,65.89 380.85,71.24 380.92,78.42 381.00,87.34 381.08,97.88 381.15,109.90 381.23,123.24 381.31,137.73 381.39,153.16 381.46,169.33 381.54,186.03 381.62,203.05 381.70,220.14 381.77,237.10 381.85,253.69 381.93,269.70 382.01,284.92 382.08,299.15 382.16,312.20 382.24,323.91 382.31,334.13 382.39,342.73 382.47,349.60 382.55,354.66 382.62,357.85 382.70,359.14 382.78,358.52 382.86,356.00 382.93,351.64 383.01,345.49 383.09,337.66 383.16,328.26 383.24,317.43 383.32,305.31 383.40,292.09 383.47,277.96 383.55,263.10 383.63,247.73 383.71,232.05 383.78,216.30 383.86,200.69 383.94,185.42 384.01,170.71 384.09,156.77 384.17,143.77 384.25,131.89 384.32,121.30 384.40,112.13 384.48,104.50 384.56,98.51 384.63,94.24 384.71,91.73 384.79,91.02 384.86,92.09 384.94,94.93 385.02,99.49 385.10,105.69 385.17,113.43 385.25,122.61 385.33,133.08 385.41,144.68 385.48,157.25 385.56,170.60 385.64,184.54 385.72,198.87 385.79,213.37 385.87,227.84 385.95,242.08 386.02,255.87 386.10,269.03 386.18,281.36 386.26,292.68 386.33,302.85 386.41,311.71 386.49,319.14 386.57,325.03 386.64,329.31 386.72,331.91 386.80,332.80 386.87,331.96 386.95,329.42 387.03,325.21 387.11,319.40 387.18,312.06 387.26,303.31 387.34,293.27 387.42,282.08 387.49,269.91 387.57,256.94 387.65,243.35 387.72,229.33 387.80,215.09 387.88,200.84 387.96,186.77 388.03,173.09 388.11,160.00 388.19,147.68 388.27,136.32 388.34,126.08 388.42,117.11 388.50,109.53 388.57,103.47 388.65,99.00 388.73,96.21 388.81,95.13 388.88,95.78 388.96,98.15 389.04,102.23 389.12,107.96 389.19,115.25 389.27,124.03 389.35,134.15 389.43,145.50 389.50,157.90 389.58,171.21 389.66,185.22 389.73,199.74 389.81,214.59 389.89,229.55 389.97,244.41 390.04,258.97 390.12,273.03 390.20,286.39 390.28,298.86 390.35,310.28 390.43,320.48 390.51,329.32 390.58,336.67 390.66,342.43 390.74,346.52 390.82,348.88 390.89,349.47 390.97,348.27 391.05,345.31 391.13,340.61 391.20,334.24 391.28,326.28 391.36,316.83 391.43,306.02 391.51,293.99 391.59,280.90 391.67,266.92 391.74,252.23 391.82,237.04 391.90,221.55 391.98,205.95 392.05,190.46 392.13,175.27 392.21,160.60 392.29,146.63 392.36,133.56 392.44,121.54 392.52,110.73 392.59,101.28 392.67,93.32 392.75,86.93 392.83,82.20 392.90,79.19 392.98,77.94 393.06,78.46 393.14,80.73 393.21,84.72 393.29,90.38 393.37,97.62 393.44,106.34 393.52,116.43 393.60,127.75 393.68,140.15 393.75,153.45 393.83,167.49 393.91,182.08 393.99,197.03 394.06,212.14 394.14,227.22 394.22,242.07 394.29,256.50 394.37,270.33 394.45,283.38 394.53,295.50 394.60,306.53 394.68,316.34 394.76,324.82 394.84,331.87 394.91,337.41 394.99,341.38 395.07,343.75 395.14,344.51 395.22,343.66 395.30,341.23 395.38,337.27 395.45,331.85 395.53,325.06 395.61,317.00 395.69,307.79 395.76,297.57 395.84,286.48 395.92,274.68 396.00,262.34 396.07,249.61 396.15,236.68 396.23,223.71 396.30,210.87 396.38,198.34 396.46,186.25 396.54,174.78 396.61,164.06 396.69,154.20 396.77,145.34 396.85,137.56 396.92,130.95 397.00,125.57 397.08,121.47 397.15,118.68 397.23,117.20 397.31,117.02 397.39,118.13 397.46,120.47 397.54,123.99 397.62,128.61 397.70,134.24 397.77,140.77 397.85,148.10 397.93,156.11 398.00,164.67 398.08,173.63 398.16,182.88 398.24,192.26 398.31,201.65 398.39,210.91 398.47,219.91 398.55,228.54 398.62,236.67 398.70,244.22 398.78,251.07 398.85,257.17 398.93,262.43 399.01,266.82 399.09,270.29 399.16,272.83 399.24,274.42 399.32,275.07 399.40,274.82 399.47,273.69 399.55,271.73 399.63,269.02 399.71,265.61 399.78,261.59 399.86,257.06 399.94,252.10 400.01,246.82 400.09,241.32 400.17,235.71 400.25,230.08 400.32,224.55 400.40,219.21 400.48,214.15 400.56,209.46 400.63,205.22 400.71,201.48 400.79,198.32 400.86,195.77 400.94,193.86 401.02,192.63 401.10,192.07 401.17,192.18 401.25,192.94 401.33,194.33 401.41,196.30 401.48,198.81 401.56,201.78 401.64,205.15 401.71,208.85 401.79,212.78 401.87,216.86 401.95,221.00 402.02,225.11 402.10,229.09 402.18,232.86 402.26,236.32 402.33,239.40 402.41,242.01 402.49,244.11 402.57,245.61 402.64,246.49 402.72,246.70 402.80,246.21 402.87,245.02 402.95,243.12 403.03,240.54 403.11,237.29 403.18,233.41 403.26,228.96 403.34,224.00 403.42,218.60 403.49,212.84 403.57,206.81 403.65,200.62 403.72,194.35 403.80,188.12 403.88,182.04 403.96,176.21 404.03,170.74 404.11,165.73 404.19,161.28 404.27,157.47 404.34,154.40 404.42,152.14 404.50,150.74 404.57,150.26 404.65,150.73 404.73,152.18 404.81,154.61 404.88,158.01 404.96,162.37 405.04,167.64 405.12,173.78 405.19,180.71 405.27,188.37 405.35,196.64 405.42,205.44 405.50,214.65 405.58,224.14 405.66,233.79 405.73,243.47 405.81,253.04 405.89,262.35 405.97,271.29 406.04,279.70 406.12,287.48 406.20,294.48 406.28,300.61 406.35,305.76 406.43,309.84 406.51,312.78 406.58,314.51 406.66,314.99 406.74,314.19 406.82,312.10 406.89,308.74 406.97,304.12 407.05,298.28 407.13,291.30 407.20,283.24 407.28,274.21 407.36,264.30 407.43,253.64 407.51,242.37 407.59,230.62 407.67,218.55 407.74,206.31 407.82,194.07 407.90,181.99 407.98,170.24 408.05,158.96 408.13,148.33 408.21,138.48 408.28,129.55 408.36,121.67 408.44,114.96 408.52,109.50 408.59,105.39 408.67,102.69 408.75,101.44 408.83,101.68 408.90,103.39 408.98,106.58 409.06,111.21 409.14,117.22 409.21,124.54 409.29,133.09 409.37,142.74 409.44,153.37 409.52,164.86 409.60,177.04 409.68,189.76 409.75,202.85 409.83,216.13 409.91,229.43 409.99,242.57 410.06,255.36 410.14,267.64 410.22,279.25 410.29,290.01 410.37,299.80 410.45,308.46 410.53,315.89 410.60,321.98 410.68,326.65 410.76,329.84 410.84,331.49 410.91,331.59 410.99,330.14 411.07,327.16 411.14,322.68 411.22,316.77 411.30,309.52 411.38,301.01 411.45,291.38 411.53,280.76 411.61,269.28 411.69,257.12 411.76,244.44 411.84,231.43 411.92,218.25 411.99,205.10 412.07,192.17 412.15,179.62 412.23,167.64 412.30,156.40 412.38,146.06 412.46,136.75 412.54,128.61 412.61,121.75 412.69,116.28 412.77,112.26 412.85,109.75 412.92,108.79 413.00,109.39 413.08,111.53 413.15,115.19 413.23,120.31 413.31,126.83 413.39,134.63 413.46,143.61 413.54,153.65 413.62,164.59 413.70,176.27 413.77,188.53 413.85,201.19 413.93,214.06 414.00,226.95 414.08,239.69 414.16,252.07 414.24,263.92 414.31,275.07 414.39,285.34 414.47,294.59 414.55,302.68 414.62,309.49 414.70,314.91 414.78,318.86 414.85,321.28 414.93,322.12 415.01,321.37 415.09,319.03 415.16,315.14 415.24,309.73 415.32,302.90 415.40,294.71 415.47,285.30 415.55,274.80 415.63,263.34 415.70,251.10 415.78,238.25 415.86,224.98 415.94,211.47 416.01,197.92 416.09,184.54 416.17,171.51 416.25,159.03 416.32,147.29 416.40,136.46 416.48,126.70 416.56,118.17 416.63,111.00 416.71,105.31 416.79,101.18 416.86,98.70 416.94,97.91 417.02,98.83 417.10,101.47 417.17,105.81 417.25,111.80 417.33,119.37 417.41,128.42 417.48,138.84 417.56,150.50 417.64,163.23 417.71,176.88 417.79,191.26 417.87,206.16 417.95,221.40 418.02,236.75 418.10,252.00 418.18,266.94 418.26,281.36 418.33,295.06 418.41,307.83 418.49,319.49 418.56,329.87 418.64,338.82 418.72,346.20 418.80,351.89 418.87,355.79 418.95,357.86 419.03,358.02 419.11,356.28 419.18,352.63 419.26,347.10 419.34,339.77 419.42,330.71 419.49,320.02 419.57,307.85 419.65,294.33 419.72,279.65 419.80,263.99 419.88,247.54 419.96,230.54 420.03,213.18 420.11,195.72 420.19,178.37 420.27,161.36 420.34,144.93 420.42,129.29 420.50,114.66 420.57,101.23 420.65,89.18 420.73,78.69 420.81,69.90 420.88,62.93 420.96,57.89 421.04,54.84 421.12,53.85 421.19,54.92 421.27,58.06 421.35,63.24 421.42,70.39 421.50,79.43 421.58,90.26 421.66,102.73 421.73,116.69 421.81,131.97 421.89,148.38 421.97,165.70 422.04,183.71 422.12,202.19 422.20,220.90 422.27,239.60 422.35,258.06 422.43,276.02 422.51,293.28 422.58,309.59 422.66,324.77 422.74,338.60 422.82,350.92 422.89,361.57 422.97,370.41 423.05,377.34 423.13,382.26 423.20,385.12 423.28,385.88 423.36,384.54 423.43,381.11 423.51,375.65 423.59,368.22 423.67,358.94 423.74,347.92 423.82,335.30 423.90,321.25 423.98,305.96 424.05,289.61 424.13,272.44 424.21,254.64 424.28,236.46 424.36,218.13 424.44,199.87 424.52,181.92 424.59,164.51 424.67,147.84 424.75,132.14 424.83,117.58 424.90,104.35 424.98,92.61 425.06,82.49 425.13,74.11 425.21,67.56 425.29,62.92 425.37,60.21 425.44,59.47 425.52,60.68 425.60,63.82 425.68,68.81 425.75,75.58 425.83,84.03 425.91,94.03 425.98,105.44 426.06,118.09 426.14,131.81 426.22,146.41 426.29,161.69 426.37,177.46 426.45,193.49 426.53,209.58 426.60,225.53 426.68,241.12 426.76,256.16 426.84,270.47 426.91,283.87 426.99,296.19 427.07,307.30 427.14,317.07 427.22,325.38 427.30,332.16 427.38,337.34 427.45,340.88 427.53,342.76 427.61,342.98 427.69,341.56 427.76,338.56 427.84,334.04 427.92,328.09 427.99,320.81 428.07,312.34 428.15,302.79 428.23,292.33 428.30,281.11 428.38,269.30 428.46,257.07 428.54,244.59 428.61,232.05 428.69,219.61 428.77,207.44 428.84,195.71 428.92,184.57 429.00,174.16 429.08,164.61 429.15,156.04 429.23,148.54 429.31,142.19 429.39,137.07 429.46,133.21 429.54,130.64 429.62,129.36 429.70,129.37 429.77,130.63 429.85,133.10 429.93,136.70 430.00,141.37 430.08,146.99 430.16,153.48 430.24,160.69 430.31,168.52 430.39,176.83 430.47,185.47 430.55,194.30 430.62,203.19 430.70,212.00 430.78,220.58 430.85,228.82 430.93,236.58 431.01,243.75 431.09,250.24 431.16,255.95 431.24,260.80 431.32,264.75 431.40,267.74 431.47,269.74 431.55,270.74 431.63,270.75 431.70,269.78 431.78,267.87 431.86,265.07 431.94,261.44 432.01,257.07 432.09,252.02 432.17,246.41 432.25,240.35 432.32,233.93 432.40,227.28 432.48,220.52 432.55,213.78 432.63,207.15 432.71,200.78 432.79,194.76 432.86,189.19 432.94,184.19 433.02,179.83 433.10,176.18 433.17,173.32 433.25,171.29 433.33,170.12 433.41,169.84 433.48,170.45 433.56,171.95 433.64,174.31 433.71,177.50 433.79,181.45 433.87,186.12 433.95,191.42 434.02,197.26 434.10,203.55 434.18,210.18 434.26,217.05 434.33,224.05 434.41,231.04 434.49,237.93 434.56,244.59 434.64,250.90 434.72,256.77 434.80,262.09 434.87,266.76 434.95,270.70 435.03,273.85 435.11,276.13 435.18,277.51 435.26,277.94 435.34,277.42 435.41,275.93 435.49,273.49 435.57,270.13 435.65,265.88 435.72,260.80 435.80,254.96 435.88,248.44 435.96,241.33 436.03,233.73 436.11,225.75 436.19,217.50 436.26,209.12 436.34,200.71 436.42,192.41 436.50,184.34 436.57,176.62 436.65,169.37 436.73,162.70 436.81,156.71 436.88,151.50 436.96,147.15 437.04,143.73 437.12,141.29 437.19,139.88 437.27,139.54 437.35,140.26 437.42,142.04 437.50,144.88 437.58,148.73 437.66,153.54 437.73,159.25 437.81,165.79 437.89,173.05 437.97,180.96 438.04,189.38 438.12,198.21 438.20,207.32 438.27,216.58 438.35,225.86 438.43,235.03 438.51,243.96 438.58,252.51 438.66,260.58 438.74,268.04 438.82,274.78 438.89,280.71 438.97,285.75 439.05,289.81 439.12,292.86 439.20,294.83 439.28,295.71 439.36,295.48 439.43,294.15 439.51,291.74 439.59,288.28 439.67,283.83 439.74,278.46 439.82,272.24 439.90,265.26 439.98,257.64 440.05,249.47 440.13,240.89 440.21,232.02 440.28,222.99 440.36,213.94 440.44,204.99 440.52,196.29 440.59,187.94 440.67,180.09 440.75,172.84 440.83,166.30 440.90,160.57 440.98,155.72 441.06,151.82 441.13,148.94 441.21,147.10 441.29,146.34 441.37,146.65 441.44,148.04 441.52,150.47 441.60,153.90 441.68,158.27 441.75,163.52 441.83,169.56 441.91,176.29 441.98,183.60 442.06,191.38 442.14,199.51 442.22,207.85 442.29,216.27 442.37,224.64 442.45,232.83 442.53,240.70 442.60,248.13 442.68,255.00 442.76,261.19 442.83,266.62 442.91,271.18 442.99,274.81 443.07,277.44 443.14,279.03 443.22,279.55 443.30,278.98 443.38,277.33 443.45,274.63 443.53,270.90 443.61,266.21 443.69,260.63 443.76,254.23 443.84,247.13 443.92,239.42 443.99,231.24 444.07,222.70 444.15,213.95 444.23,205.12 444.30,196.36 444.38,187.82 444.46,179.62 444.54,171.91 444.61,164.83 444.69,158.49 444.77,153.00 444.84,148.47 444.92,144.98 445.00,142.61 445.08,141.41 445.15,141.42 445.23,142.65 445.31,145.11 445.39,148.79 445.46,153.64 445.54,159.61 445.62,166.62 445.69,174.60 445.77,183.43 445.85,192.98 445.93,203.14 446.00,213.76 446.08,224.68 446.16,235.74 446.24,246.78 446.31,257.64 446.39,268.15 446.47,278.14 446.54,287.46 446.62,295.95 446.70,303.48 446.78,309.92 446.85,315.15 446.93,319.07 447.01,321.60 447.09,322.69 447.16,322.27 447.24,320.35 447.32,316.90 447.40,311.96 447.47,305.57 447.55,297.79 447.63,288.70 447.70,278.41 447.78,267.05 447.86,254.75 447.94,241.67 448.01,227.97 448.09,213.83 448.17,199.45 448.25,185.02 448.32,170.73 448.40,156.77 448.48,143.36 448.55,130.67 448.63,118.89 448.71,108.20 448.79,98.75 448.86,90.69 448.94,84.15 449.02,79.23 449.10,76.04 449.17,74.62 449.25,75.04 449.33,77.30 449.40,81.39 449.48,87.30 449.56,94.96 449.64,104.30 449.71,115.21 449.79,127.57 449.87,141.23 449.95,156.03 450.02,171.79 450.10,188.31 450.18,205.39 450.26,222.80 450.33,240.34 450.41,257.76 450.49,274.85 450.56,291.38 450.64,307.13 450.72,321.89 450.80,335.46 450.87,347.66 450.95,358.32 451.03,367.29 451.11,374.44 451.18,379.67 451.26,382.90 451.34,384.07 451.41,383.15 451.49,380.14 451.57,375.07 451.65,367.99 451.72,358.98 451.80,348.14 451.88,335.61 451.96,321.53 452.03,306.07 452.11,289.43 452.19,271.82 452.26,253.45 452.34,234.55 452.42,215.36 452.50,196.12 452.57,177.09 452.65,158.49 452.73,140.57 452.81,123.55 452.88,107.66 452.96,93.09 453.04,80.03 453.11,68.65 453.19,59.09 453.27,51.48 453.35,45.92 453.42,42.46 453.50,41.17 453.58,42.04 453.66,45.08 453.73,50.24 453.81,57.45 453.89,66.62 453.97,77.62 454.04,90.33 454.12,104.56 454.20,120.15 454.27,136.87 454.35,154.53 454.43,172.89 454.51,191.72 454.58,210.78 454.66,229.82 454.74,248.59 454.82,266.87 454.89,284.42 454.97,301.03 455.05,316.47 455.12,330.56 455.20,343.13 455.28,354.03 455.36,363.12 455.43,370.29 455.51,375.48 455.59,378.62 455.67,379.69 455.74,378.68 455.82,375.63 455.90,370.58 455.97,363.63 456.05,354.86 456.13,344.42 456.21,332.45 456.28,319.11 456.36,304.60 456.44,289.11 456.52,272.85 456.59,256.04 456.67,238.92 456.75,221.69 456.82,204.60 456.90,187.86 456.98,171.70 457.06,156.32 457.13,141.91 457.21,128.66 457.29,116.73 457.37,106.27 457.44,97.39 457.52,90.21 457.60,84.79 457.68,81.20 457.75,79.45 457.83,79.55 457.91,81.48 457.98,85.19 458.06,90.61 458.14,97.64 458.22,106.17 458.29,116.07 458.37,127.18 458.45,139.34 458.53,152.36 458.60,166.06 458.68,180.23 458.76,194.68 458.83,209.21 458.91,223.60 458.99,237.66 459.07,251.21 459.14,264.04 459.22,276.00 459.30,286.92 459.38,296.67 459.45,305.12 459.53,312.17 459.61,317.73 459.68,321.74 459.76,324.18 459.84,325.01 459.92,324.25 459.99,321.92 460.07,318.09 460.15,312.82 460.23,306.21 460.30,298.37 460.38,289.43 460.46,279.52 460.54,268.81 460.61,257.47 460.69,245.66 460.77,233.56 460.84,221.36 460.92,209.24 461.00,197.38 461.08,185.94 461.15,175.11 461.23,165.02 461.31,155.83 461.39,147.67 461.46,140.64 461.54,134.86 461.62,130.38 461.69,127.27 461.77,125.57 461.85,125.30 461.93,126.44 462.00,128.97 462.08,132.84 462.16,137.99 462.24,144.34 462.31,151.78 462.39,160.19 462.47,169.45 462.54,179.41 462.62,189.91 462.70,200.80 462.78,211.92 462.85,223.08 462.93,234.14 463.01,244.91 463.09,255.25 463.16,264.99 463.24,273.99 463.32,282.11 463.39,289.25 463.47,295.28 463.55,300.13 463.63,303.72 463.70,306.00 463.78,306.93 463.86,306.51 463.94,304.73 464.01,301.63 464.09,297.25 464.17,291.66 464.25,284.92 464.32,277.16 464.40,268.47 464.48,258.98 464.55,248.83 464.63,238.17 464.71,227.15 464.79,215.94 464.86,204.68 464.94,193.55 465.02,182.70 465.10,172.29 465.17,162.47 465.25,153.38 465.33,145.15 465.40,137.90 465.48,131.73 465.56,126.73 465.64,122.96 465.71,120.49 465.79,119.34 465.87,119.54 465.95,121.08 466.02,123.93 466.10,128.06 466.18,133.41 466.25,139.90 466.33,147.44 466.41,155.93 466.49,165.24 466.56,175.25 466.64,185.81 466.72,196.79 466.80,208.01 466.87,219.34 466.95,230.62 467.03,241.68 467.11,252.39 467.18,262.59 467.26,272.14 467.34,280.93 467.41,288.83 467.49,295.73 467.57,301.56 467.65,306.23 467.72,309.70 467.80,311.91 467.88,312.85 467.96,312.51 468.03,310.91 468.11,308.08 468.19,304.06 468.26,298.93 468.34,292.75 468.42,285.63 468.50,277.67 468.57,268.98 468.65,259.69 468.73,249.93 468.81,239.85 468.88,229.58 468.96,219.26 469.04,209.04 469.11,199.05 469.19,189.43 469.27,180.31 469.35,171.80 469.42,164.02 469.50,157.06 469.58,151.00 469.66,145.91 469.73,141.85 469.81,138.87 469.89,136.97 469.96,136.18 470.04,136.49 470.12,137.86 470.20,140.26 470.27,143.64 470.35,147.93 470.43,153.06 470.51,158.92 470.58,165.43 470.66,172.47 470.74,179.94 470.82,187.71 470.89,195.66 470.97,203.67 471.05,211.63 471.12,219.41 471.20,226.90 471.28,234.00 471.36,240.61 471.43,246.64 471.51,252.01 471.59,256.65 471.67,260.52 471.74,263.57 471.82,265.77 471.90,267.11 471.97,267.59 472.05,267.23 472.13,266.06 472.21,264.12 472.28,261.45 472.36,258.14 472.44,254.24 472.52,249.84 472.59,245.04 472.67,239.92 472.75,234.59 472.82,229.15 472.90,223.70 472.98,218.35 473.06,213.19 473.13,208.31 473.21,203.80 473.29,199.74 473.37,196.21 473.44,193.27 473.52,190.96 473.60,189.32 473.67,188.39 473.75,188.16 473.83,188.66 473.91,189.85 473.98,191.71 474.06,194.21 474.14,197.30 474.22,200.91 474.29,204.97 474.37,209.41 474.45,214.13 474.53,219.04 474.60,224.05 474.68,229.05 474.76,233.94 474.83,238.62 474.91,242.99 474.99,246.95 475.07,250.43 475.14,253.33 475.22,255.59 475.30,257.14 475.38,257.92 475.45,257.91 475.53,257.08 475.61,255.41 475.68,252.90 475.76,249.58 475.84,245.47 475.92,240.63 475.99,235.10 476.07,228.96 476.15,222.30 476.23,215.20 476.30,207.78 476.38,200.13 476.46,192.39 476.53,184.68 476.61,177.11 476.69,169.81 476.77,162.91 476.84,156.54 476.92,150.80 477.00,145.80 477.08,141.65 477.15,138.43 477.23,136.23 477.31,135.11 477.39,135.11 477.46,136.27 477.54,138.61 477.62,142.12 477.69,146.80 477.77,152.60 477.85,159.47 477.93,167.35 478.00,176.15 478.08,185.76 478.16,196.07 478.24,206.96 478.31,218.29 478.39,229.92 478.47,241.67 478.54,253.41 478.62,264.96 478.70,276.17 478.78,286.87 478.85,296.91 478.93,306.13 479.01,314.40 479.09,321.58 479.16,327.55 479.24,332.22 479.32,335.48 479.39,337.29 479.47,337.57 479.55,336.31 479.63,333.48 479.70,329.11 479.78,323.22 479.86,315.87 479.94,307.13 480.01,297.09 480.09,285.86 480.17,273.58 480.24,260.38 480.32,246.44 480.40,231.91 480.48,216.98 480.55,201.84 480.63,186.69 480.71,171.72 480.79,157.12 480.86,143.09 480.94,129.81 481.02,117.48 481.10,106.25 481.17,96.28 481.25,87.71 481.33,80.68 481.40,75.27 481.48,71.58 481.56,69.67 481.64,69.58 481.71,71.32 481.79,74.89 481.87,80.26 481.95,87.36 482.02,96.12 482.10,106.44 482.18,118.19 482.25,131.24 482.33,145.42 482.41,160.56 482.49,176.47 482.56,192.95 482.64,209.78 482.72,226.76 482.80,243.67 482.87,260.29 482.95,276.41 483.03,291.81 483.10,306.30 483.18,319.69 483.26,331.80 483.34,342.48 483.41,351.58 483.49,358.99 483.57,364.60 483.65,368.34 483.72,370.16 483.80,370.04 483.88,367.98 483.95,364.00 484.03,358.15 484.11,350.51 484.19,341.18 484.26,330.28 484.34,317.95 484.42,304.35 484.50,289.67 484.57,274.09 484.65,257.82 484.73,241.08 484.81,224.08 484.88,207.04 484.96,190.20 485.04,173.76 485.11,157.94 485.19,142.96 485.27,129.00 485.35,116.25 485.42,104.87 485.50,95.00 485.58,86.78 485.66,80.30 485.73,75.65 485.81,72.87 485.89,72.00 485.96,73.04 486.04,75.98 486.12,80.75 486.20,87.29 486.27,95.51 486.35,105.28 486.43,116.47 486.51,128.91 486.58,142.44 486.66,156.86 486.74,171.98 486.81,187.58 486.89,203.45 486.97,219.37 487.05,235.13 487.12,250.51 487.20,265.30 487.28,279.30 487.36,292.32 487.43,304.19 487.51,314.75 487.59,323.86 487.67,331.41 487.74,337.29 487.82,341.44 487.90,343.81 487.97,344.36 488.05,343.12 488.13,340.09 488.21,335.33 488.28,328.93 488.36,320.97 488.44,311.58 488.52,300.89 488.59,289.07 488.67,276.29 488.75,262.73 488.82,248.59 488.90,234.07 488.98,219.38 489.06,204.73 489.13,190.33 489.21,176.39 489.29,163.10 489.37,150.66 489.44,139.23 489.52,128.98 489.60,120.05 489.67,112.57 489.75,106.64 489.83,102.35 489.91,99.74 489.98,98.86 490.06,99.72 490.14,102.30 490.22,106.56 490.29,112.43 490.37,119.83 490.45,128.66 490.52,138.78 490.60,150.05 490.68,162.30 490.76,175.36 490.83,189.03 490.91,203.13 490.99,217.44 491.07,231.76 491.14,245.89 491.22,259.62 491.30,272.75 491.38,285.09 491.45,296.47 491.53,306.71 491.61,315.67 491.68,323.22 491.76,329.25 491.84,333.66 491.92,336.39 491.99,337.40 492.07,336.66 492.15,334.19 492.23,330.01 492.30,324.17 492.38,316.76 492.46,307.87 492.53,297.63 492.61,286.17 492.69,273.65 492.77,260.25 492.84,246.14 492.92,231.53 493.00,216.62 493.08,201.61 493.15,186.72 493.23,172.15 493.31,158.10 493.38,144.78 493.46,132.36 493.54,121.03 493.62,110.95 493.69,102.25 493.77,95.07 493.85,89.51 493.93,85.64 494.00,83.53 494.08,83.22 494.16,84.70 494.23,87.98 494.31,93.00 494.39,99.71 494.47,108.02 494.54,117.83 494.62,129.00 494.70,141.38 494.78,154.82 494.85,169.13 494.93,184.13 495.01,199.62 495.09,215.39 495.16,231.23 495.24,246.93 495.32,262.28 495.39,277.07 495.47,291.12 495.55,304.23 495.63,316.23 495.70,326.96 495.78,336.28 495.86,344.07 495.94,350.22 496.01,354.65 496.09,357.31 496.17,358.16 496.24,357.20 496.32,354.43 496.40,349.90 496.48,343.66 496.55,335.81 496.63,326.44 496.71,315.69 496.79,303.69 496.86,290.61 496.94,276.62 497.02,261.89 497.09,246.64 497.17,231.04 497.25,215.32 497.33,199.66 497.40,184.28 497.48,169.36 497.56,155.11 497.64,141.69 497.71,129.29 497.79,118.04 497.87,108.09 497.95,99.56 498.02,92.55 498.10,87.13 498.18,83.37 498.25,81.30 498.33,80.93 498.41,82.26 498.49,85.25 498.56,89.85 498.64,95.98 498.72,103.55 498.80,112.45 498.87,122.55 498.95,133.71 499.03,145.77 499.10,158.57 499.18,171.94 499.26,185.69 499.34,199.64 499.41,213.61 499.49,227.42 499.57,240.89 499.65,253.86 499.72,266.16 499.80,277.65 499.88,288.18 499.95,297.64 500.03,305.91 500.11,312.92 500.19,318.59 500.26,322.87 500.34,325.72 500.42,327.14 500.50,327.14 500.57,325.74 500.65,322.98 500.73,318.94 500.80,313.68 500.88,307.31 500.96,299.93 501.04,291.66 501.11,282.63 501.19,272.99 501.27,262.87 501.35,252.42 501.42,241.80 501.50,231.14 501.58,220.60 501.66,210.32 501.73,200.43 501.81,191.07 501.89,182.33 501.96,174.34 502.04,167.17 502.12,160.91 502.20,155.63 502.27,151.35 502.35,148.13 502.43,145.96 502.51,144.86 502.58,144.80 502.66,145.75 502.74,147.65 502.81,150.47 502.89,154.11 502.97,158.49 503.05,163.53 503.12,169.12 503.20,175.16 503.28,181.53 503.36,188.12 503.43,194.81 503.51,201.50 503.59,208.08 503.66,214.43 503.74,220.46 503.82,226.08 503.90,231.21 503.97,235.77 504.05,239.71 504.13,242.97 504.21,245.53 504.28,247.35 504.36,248.44 504.44,248.79 504.51,248.43 504.59,247.37 504.67,245.68 504.75,243.39 504.82,240.58 504.90,237.30 504.98,233.65 505.06,229.71 505.13,225.57 505.21,221.32 505.29,217.06 505.37,212.87 505.44,208.86 505.52,205.10 505.60,201.69 505.67,198.69 505.75,196.17 505.83,194.21 505.91,192.83 505.98,192.08 506.06,191.99 506.14,192.57 506.22,193.82 506.29,195.72 506.37,198.26 506.45,201.40 506.52,205.08 506.60,209.25 506.68,213.84 506.76,218.77 506.83,223.96 506.91,229.32 506.99,234.74 507.07,240.12 507.14,245.38 507.22,250.40 507.30,255.09 507.37,259.34 507.45,263.08 507.53,266.22 507.61,268.68 507.68,270.39 507.76,271.31 507.84,271.39 507.92,270.60 507.99,268.92 508.07,266.35 508.15,262.91 508.23,258.63 508.30,253.53 508.38,247.68 508.46,241.14 508.53,233.99 508.61,226.33 508.69,218.25 508.77,209.87 508.84,201.29 508.92,192.65 509.00,184.07 509.08,175.67 509.15,167.58 509.23,159.92 509.31,152.83 509.38,146.41 509.46,140.76 509.54,136.00 509.62,132.20 509.69,129.43 509.77,127.77 509.85,127.26 509.93,127.92 510.00,129.77 510.08,132.81 510.16,137.02 510.23,142.36 510.31,148.78 510.39,156.20 510.47,164.55 510.54,173.73 510.62,183.62 510.70,194.09 510.78,205.03 510.85,216.28 510.93,227.69 511.01,239.12 511.08,250.41 511.16,261.40 511.24,271.95 511.32,281.91 511.39,291.14 511.47,299.50 511.55,306.87 511.63,313.15 511.70,318.23 511.78,322.05 511.86,324.53 511.94,325.63 512.01,325.33 512.09,323.61 512.17,320.49 512.24,316.00 512.32,310.19 512.40,303.13 512.48,294.90 512.55,285.61 512.63,275.37 512.71,264.32 512.79,252.60 512.86,240.37 512.94,227.77 513.02,214.99 513.09,202.20 513.17,189.56 513.25,177.24 513.33,165.42 513.40,154.25 513.48,143.88 513.56,134.47 513.64,126.13 513.71,118.98 513.79,113.13 513.87,108.65 513.94,105.60 514.02,104.04 514.10,103.98 514.18,105.43 514.25,108.36 514.33,112.74 514.41,118.51 514.49,125.59 514.56,133.89 514.64,143.28 514.72,153.65 514.79,164.84 514.87,176.71 514.95,189.08 515.03,201.79 515.10,214.66 515.18,227.51 515.26,240.16 515.34,252.43 515.41,264.16 515.49,275.18 515.57,285.33 515.65,294.48 515.72,302.50 515.80,309.26 515.88,314.69 515.95,318.70 516.03,321.24 516.11,322.27 516.19,321.78 516.26,319.78 516.34,316.30 516.42,311.39 516.50,305.12 516.57,297.59 516.65,288.89 516.73,279.17 516.80,268.55 516.88,257.20 516.96,245.27 517.04,232.95 517.11,220.41 517.19,207.83 517.27,195.40 517.35,183.29 517.42,171.69 517.50,160.77 517.58,150.69 517.65,141.59 517.73,133.62 517.81,126.89 517.89,121.50 517.96,117.53 518.04,115.05 518.12,114.11 518.20,114.70 518.27,116.84 518.35,120.50 518.43,125.63 518.51,132.15 518.58,139.98 518.66,149.00 518.74,159.10 518.81,170.12 518.89,181.90 518.97,194.28 519.05,207.08 519.12,220.11 519.20,233.18 519.28,246.10 519.36,258.67 519.43,270.72 519.51,282.05 519.59,292.49 519.66,301.89 519.74,310.10 519.82,317.00 519.90,322.46 519.97,326.40 520.05,328.76 520.13,329.47 520.21,328.52 520.28,325.90 520.36,321.64 520.44,315.79 520.51,308.42 520.59,299.61 520.67,289.48 520.75,278.17 520.82,265.82 520.90,252.60 520.98,238.70 521.06,224.29 521.13,209.59 521.21,194.80 521.29,180.13 521.36,165.77 521.44,151.95 521.52,138.86 521.60,126.69 521.67,115.62 521.75,105.82 521.83,97.44 521.91,90.60 521.98,85.41 522.06,81.97 522.14,80.34 522.22,80.57 522.29,82.65 522.37,86.59 522.45,92.35 522.52,99.86 522.60,109.05 522.68,119.79 522.76,131.96 522.83,145.42 522.91,159.97 522.99,175.45 523.07,191.65 523.14,208.35 523.22,225.34 523.30,242.39 523.37,259.28 523.45,275.77 523.53,291.65 523.61,306.69 523.68,320.70 523.76,333.47 523.84,344.84 523.92,354.63 523.99,362.72 524.07,368.97 524.15,373.31 524.22,375.65 524.30,375.95 524.38,374.20 524.46,370.41 524.53,364.62 524.61,356.88 524.69,347.30 524.77,335.98 524.84,323.07 524.92,308.72 525.00,293.12 525.08,276.45 525.15,258.94 525.23,240.80 525.31,222.26 525.38,203.57 525.46,184.96 525.54,166.67 525.62,148.94 525.69,131.99 525.77,116.05 525.85,101.33 525.93,88.00 526.00,76.25 526.08,66.23 526.16,58.06 526.23,51.86 526.31,47.71 526.39,45.65 526.47,45.72 526.54,47.91 526.62,52.20 526.70,58.53 526.78,66.82 526.85,76.97 526.93,88.83 527.01,102.27 527.08,117.10 527.16,133.14 527.24,150.17 527.32,167.99 527.39,186.37 527.47,205.06 527.55,223.84 527.63,242.46 527.70,260.69 527.78,278.31 527.86,295.08 527.93,310.80 528.01,325.28 528.09,338.35 528.17,349.83 528.24,359.60 528.32,367.54 528.40,373.56 528.48,377.60 528.55,379.62 528.63,379.60 528.71,377.57 528.79,373.56 528.86,367.63 528.94,359.88 529.02,350.43 529.09,339.40 529.17,326.94 529.25,313.24 529.33,298.47 529.40,282.84 529.48,266.55 529.56,249.81 529.64,232.85 529.71,215.89 529.79,199.13 529.87,182.80 529.94,167.10 530.02,152.22 530.10,138.34 530.18,125.64 530.25,114.25 530.33,104.32 530.41,95.94 530.49,89.21 530.56,84.19 530.64,80.92 530.72,79.43 530.79,79.70 530.87,81.70 530.95,85.39 531.03,90.68 531.10,97.49 531.18,105.70 531.26,115.18 531.34,125.78 531.41,137.34 531.49,149.70 531.57,162.68 531.64,176.08 531.72,189.73 531.80,203.44 531.88,217.02 531.95,230.29 532.03,243.08 532.11,255.23 532.19,266.57 532.26,276.98 532.34,286.33 532.42,294.50 532.50,301.42 532.57,307.02 532.65,311.23 532.73,314.04 532.80,315.44 532.88,315.43 532.96,314.04 533.04,311.34 533.11,307.37 533.19,302.24 533.27,296.03 533.35,288.87 533.42,280.88 533.50,272.18 533.58,262.94 533.65,253.29 533.73,243.38 533.81,233.38 533.89,223.43 533.96,213.68 534.04,204.27 534.12,195.33 534.20,187.00 534.27,179.38 534.35,172.58 534.43,166.68 534.50,161.76 534.58,157.87 534.66,155.04 534.74,153.30 534.81,152.66 534.89,153.09 534.97,154.58 535.05,157.07 535.12,160.50 535.20,164.80 535.28,169.88 535.36,175.64 535.43,181.97 535.51,188.76 535.59,195.89 535.66,203.23 535.74,210.64 535.82,218.01 535.90,225.21 535.97,232.12 536.05,238.62 536.13,244.61 536.21,249.99 536.28,254.67 536.36,258.57 536.44,261.64 536.51,263.83 536.59,265.10 536.67,265.44 536.75,264.85 536.82,263.34 536.90,260.94 536.98,257.69 537.06,253.65 537.13,248.89 537.21,243.49 537.29,237.54 537.36,231.16 537.44,224.43 537.52,217.48 537.60,210.43 537.67,203.40 537.75,196.49 537.83,189.84 537.91,183.55 537.98,177.74 538.06,172.50 538.14,167.92 538.21,164.10 538.29,161.08 538.37,158.94 538.45,157.72 538.52,157.44 538.60,158.12 538.68,159.76 538.76,162.34 538.83,165.82 538.91,170.18 538.99,175.33 539.07,181.22 539.14,187.76 539.22,194.85 539.30,202.39 539.37,210.27 539.45,218.36 539.53,226.56 539.61,234.73 539.68,242.75 539.76,250.50 539.84,257.85 539.92,264.70 539.99,270.94 540.07,276.47 540.15,281.20 540.22,285.05 540.30,287.96 540.38,289.88 540.46,290.78 540.53,290.62 540.61,289.41 540.69,287.16 540.77,283.90 540.84,279.65 540.92,274.49 541.00,268.48 541.07,261.69 541.15,254.23 541.23,246.20 541.31,237.71 541.38,228.88 541.46,219.84 541.54,210.71 541.62,201.63 541.69,192.72 541.77,184.11 541.85,175.93 541.92,168.30 542.00,161.31 542.08,155.09 542.16,149.70 542.23,145.24 542.31,141.76 542.39,139.32 542.47,137.94 542.54,137.66 542.62,138.46 542.70,140.35 542.78,143.29 542.85,147.23 542.93,152.12 543.01,157.89 543.08,164.45 543.16,171.70 543.24,179.55 543.32,187.86 543.39,196.53 543.47,205.41 543.55,214.40 543.63,223.34 543.70,232.12 543.78,240.60 543.86,248.66 543.93,256.18 544.01,263.07 544.09,269.21 544.17,274.52 544.24,278.93 544.32,282.37 544.40,284.80 544.48,286.19 544.55,286.53 544.63,285.81 544.71,284.05 544.78,281.29 544.86,277.57 544.94,272.95 545.02,267.51 545.09,261.34 545.17,254.54 545.25,247.22 545.33,239.50 545.40,231.48 545.48,223.32 545.56,215.12 545.64,207.03 545.71,199.18 545.79,191.67 545.87,184.64 545.94,178.20 546.02,172.44 546.10,167.46 546.18,163.34 546.25,160.15 546.33,157.93 546.41,156.72 546.49,156.53 546.56,157.39 546.64,159.26 546.72,162.13 546.79,165.94 546.87,170.64 546.95,176.15 547.03,182.39 547.10,189.24 547.18,196.62 547.26,204.38 547.34,212.42 547.41,220.59 547.49,228.76 547.57,236.80 547.64,244.57 547.72,251.93 547.80,258.78 547.88,264.97 547.95,270.41 548.03,275.00 548.11,278.64 548.19,281.27 548.26,282.83 548.34,283.28 548.42,282.59 548.49,280.76 548.57,277.80 548.65,273.74 548.73,268.62 548.80,262.51 548.88,255.49 548.96,247.66 549.04,239.11 549.11,229.99 549.19,220.41 549.27,210.53 549.35,200.48 549.42,190.42 549.50,180.51 549.58,170.91 549.65,161.76 549.73,153.21 549.81,145.41 549.89,138.50 549.96,132.58 550.04,127.78 550.12,124.19 550.20,121.88 550.27,120.91 550.35,121.33 550.43,123.16 550.50,126.40 550.58,131.03 550.66,137.01 550.74,144.28 550.81,152.76 550.89,162.36 550.97,172.95 551.05,184.41 551.12,196.59 551.20,209.33 551.28,222.46 551.35,235.81 551.43,249.18 551.51,262.40 551.59,275.28 551.66,287.63 551.74,299.27 551.82,310.03 551.90,319.75 551.97,328.27 552.05,335.45 552.13,341.19 552.20,345.37 552.28,347.92 552.36,348.76 552.44,347.88 552.51,345.24 552.59,340.86 552.67,334.78 552.75,327.04 552.82,317.73 552.90,306.95 552.98,294.83 553.06,281.49 553.13,267.11 553.21,251.87 553.29,235.94 553.36,219.53 553.44,202.86 553.52,186.13 553.60,169.56 553.67,153.38 553.75,137.80 553.83,123.02 553.91,109.26 553.98,96.69 554.06,85.50 554.14,75.83 554.21,67.84 554.29,61.65 554.37,57.34 554.45,54.99 554.52,54.64 554.60,56.33 554.68,60.04 554.76,65.75 554.83,73.38 554.91,82.87 554.99,94.11 555.06,106.95 555.14,121.25 555.22,136.84 555.30,153.52 555.37,171.08 555.45,189.32 555.53,207.99 555.61,226.87 555.68,245.72 555.76,264.29 555.84,282.35 555.92,299.66 555.99,316.01 556.07,331.19 556.15,344.99 556.22,357.24 556.30,367.77 556.38,376.46 556.46,383.18 556.53,387.85 556.61,390.40 556.69,390.80 556.77,389.04 556.84,385.14 556.92,379.15 557.00,371.14 557.07,361.21 557.15,349.49 557.23,336.13 557.31,321.29 557.38,305.17 557.46,287.98 557.54,269.92 557.62,251.23 557.69,232.16 557.77,212.94 557.85,193.81 557.92,175.02 558.00,156.82 558.08,139.42 558.16,123.04 558.23,107.90 558.31,94.19 558.39,82.06 558.47,71.67 558.54,63.15 558.62,56.60 558.70,52.08 558.77,49.66 558.85,49.34 558.93,51.13 559.01,54.99 559.08,60.86 559.16,68.64 559.24,78.24 559.32,89.51 559.39,102.30 559.47,116.43 559.55,131.71 559.63,147.94 559.70,164.89 559.78,182.34 559.86,200.07 559.93,217.83 560.01,235.40 560.09,252.55 560.17,269.06 560.24,284.71 560.32,299.31 560.40,312.68 560.48,324.65 560.55,335.08 560.63,343.84 560.71,350.84 560.78,355.99 560.86,359.25 560.94,360.60 561.02,360.03 561.09,357.58 561.17,353.29 561.25,347.24 561.33,339.54 561.40,330.30 561.48,319.66 561.56,307.79 561.63,294.86 561.71,281.05 561.79,266.57 561.87,251.62 561.94,236.41 562.02,221.14 562.10,206.04 562.18,191.30 562.25,177.13 562.33,163.71 562.41,151.22 562.48,139.83 562.56,129.67 562.64,120.88 562.72,113.57 562.79,107.81 562.87,103.67 562.95,101.19 563.03,100.38 563.10,101.24 563.18,103.73 563.26,107.81 563.34,113.39 563.41,120.37 563.49,128.64 563.57,138.07 563.64,148.51 563.72,159.79 563.80,171.75 563.88,184.20 563.95,196.95 564.03,209.83 564.11,222.63 564.19,235.18 564.26,247.29 564.34,258.79 564.42,269.51 564.49,279.31 564.57,288.04 564.65,295.60 564.73,301.88 564.80,306.79 564.88,310.27 564.96,312.29 565.04,312.83 565.11,311.88 565.19,309.48 565.27,305.67 565.34,300.51 565.42,294.09 565.50,286.53 565.58,277.92 565.65,268.42 565.73,258.16 565.81,247.30 565.89,236.02 565.96,224.48 566.04,212.85 566.12,201.30 566.20,190.02 566.27,179.17 566.35,168.91 566.43,159.39 566.50,150.75 566.58,143.12 566.66,136.60 566.74,131.31 566.81,127.30 566.89,124.64 566.97,123.37 567.05,123.51 567.12,125.04 567.20,127.96 567.28,132.20 567.35,137.72 567.43,144.43 567.51,152.23 567.59,161.00 567.66,170.63 567.74,180.96 567.82,191.85 567.90,203.14 567.97,214.66 568.05,226.26 568.13,237.75 568.20,248.98 568.28,259.79 568.36,270.01 568.44,279.51 568.51,288.13 568.59,295.77 568.67,302.31 568.75,307.66 568.82,311.73 568.90,314.48 568.98,315.86 569.05,315.86 569.13,314.46 569.21,311.70 569.29,307.61 569.36,302.25 569.44,295.69 569.52,288.02 569.60,279.36 569.67,269.82 569.75,259.53 569.83,248.65 569.91,237.32 569.98,225.69 570.06,213.94 570.14,202.21 570.21,190.68 570.29,179.49 570.37,168.81 570.45,158.78 570.52,149.53 570.60,141.19 570.68,133.86 570.76,127.65 570.83,122.63 570.91,118.86 570.99,116.40 571.06,115.27 571.14,115.48 571.22,117.01 571.30,119.85 571.37,123.94 571.45,129.22 571.53,135.61 571.61,143.02 571.68,151.34 571.76,160.45 571.84,170.22 571.91,180.52 571.99,191.19 572.07,202.10 572.15,213.09 572.22,224.02 572.30,234.73 572.38,245.09 572.46,254.95 572.53,264.19 572.61,272.70 572.69,280.36 572.76,287.08 572.84,292.79 572.92,297.41 573.00,300.91 573.07,303.24 573.15,304.39 573.23,304.37 573.31,303.19 573.38,300.89 573.46,297.52 573.54,293.14 573.62,287.82 573.69,281.67 573.77,274.78 573.85,267.26 573.92,259.23 574.00,250.81 574.08,242.13 574.16,233.31 574.23,224.48 574.31,215.78 574.39,207.31 574.47,199.20 574.54,191.56 574.62,184.49 574.70,178.08 574.77,172.40 574.85,167.52 574.93,163.50 575.01,160.36 575.08,158.15 575.16,156.86 575.24,156.49 575.32,157.03 575.39,158.43 575.47,160.66 575.55,163.65 575.62,167.34 575.70,171.65 575.78,176.48 575.86,181.75 575.93,187.36 576.01,193.20 576.09,199.16 576.17,205.15 576.24,211.06 576.32,216.78 576.40,222.22 576.48,227.29 576.55,231.91 576.63,236.01 576.71,239.52 576.78,242.40 576.86,244.60 576.94,246.10 577.02,246.88 577.09,246.94 577.17,246.30 577.25,244.97 577.33,243.01 577.40,240.45 577.48,237.35 577.56,233.79 577.63,229.84 577.71,225.58 577.79,221.12 577.87,216.53 577.94,211.92 578.02,207.39 578.10,203.02 578.18,198.93 578.25,195.19 578.33,191.89 578.41,189.10 578.48,186.90 578.56,185.34 578.64,184.47 578.72,184.32 578.79,184.91 578.87,186.26 578.95,188.36 579.03,191.19 579.10,194.71 579.18,198.90 579.26,203.68 579.33,208.98 579.41,214.74 579.49,220.85 579.57,227.23 579.64,233.76 579.72,240.34 579.80,246.85 579.88,253.18 579.95,259.22 580.03,264.84 580.11,269.96 580.19,274.45 580.26,278.22 580.34,281.20 580.42,283.29 580.49,284.45 580.57,284.61 580.65,283.75 580.73,281.84 580.80,278.88 580.88,274.87 580.96,269.85 581.04,263.86 581.11,256.96 581.19,249.22 581.27,240.73 581.34,231.60 581.42,221.93 581.50,211.86 581.58,201.51 581.65,191.03 581.73,180.56 581.81,170.26 581.89,160.27 581.96,150.74 582.04,141.81 582.12,133.63 582.19,126.33 582.27,120.02 582.35,114.83 582.43,110.84 582.50,108.13 582.58,106.79 582.66,106.84 582.74,108.32 582.81,111.24 582.89,115.59 582.97,121.33 583.04,128.43 583.12,136.81 583.20,146.38 583.28,157.04 583.35,168.66 583.43,181.11 583.51,194.24 583.59,207.88 583.66,221.87 583.74,236.02 583.82,250.15 583.90,264.08 583.97,277.62 584.05,290.59 584.13,302.82 584.20,314.12 584.28,324.35 584.36,333.36 584.44,341.01 584.51,347.19 584.59,351.80 584.67,354.77 584.75,356.03 584.82,355.55 584.90,353.33 584.98,349.37 585.05,343.71 585.13,336.39 585.21,327.51 585.29,317.17 585.36,305.48 585.44,292.58 585.52,278.63 585.60,263.80 585.67,248.28 585.75,232.26 585.83,215.94 585.90,199.53 585.98,183.25 586.06,167.29 586.14,151.87 586.21,137.20 586.29,123.45 586.37,110.81 586.45,99.46 586.52,89.54 586.60,81.18 586.68,74.49 586.76,69.58 586.83,66.50 586.91,65.31 586.99,66.02 587.06,68.63 587.14,73.10 587.22,79.39 587.30,87.42 587.37,97.08 587.45,108.25 587.53,120.78 587.61,134.53 587.68,149.30 587.76,164.90 587.84,181.15 587.91,197.81 587.99,214.68 588.07,231.53 588.15,248.15 588.22,264.32 588.30,279.82 588.38,294.47 588.46,308.05 588.53,320.41 588.61,331.37 588.69,340.81 588.76,348.59 588.84,354.62 588.92,358.82 589.00,361.14 589.07,361.57 589.15,360.09 589.23,356.74 589.31,351.56 589.38,344.63 589.46,336.06 589.54,325.95 589.61,314.45 589.69,301.73 589.77,287.95 589.85,273.31 589.92,258.00 590.00,242.25 590.08,226.25 590.16,210.24 590.23,194.42 590.31,179.01 590.39,164.22 590.47,150.25 590.54,137.28 590.62,125.49 590.70,115.03 590.77,106.04 590.85,98.63 590.93,92.91 591.01,88.93 591.08,86.76 591.16,86.40 591.24,87.85 591.32,91.09 591.39,96.05 591.47,102.67 591.55,110.85 591.62,120.45 591.70,131.34 591.78,143.36 591.86,156.34 591.93,170.08 592.01,184.39 592.09,199.08 592.17,213.91 592.24,228.69 592.32,243.21 592.40,257.26 592.47,270.64 592.55,283.16 592.63,294.65 592.71,304.95 592.78,313.91 592.86,321.41 592.94,327.35 593.02,331.63 593.09,334.22 593.17,335.07 593.25,334.18 593.33,331.56 593.40,327.25 593.48,321.32 593.56,313.85 593.63,304.96 593.71,294.78 593.79,283.44 593.87,271.13 593.94,258.01 594.02,244.28 594.10,230.13 594.18,215.77 594.25,201.41 594.33,187.25 594.41,173.50 594.48,160.36 594.56,148.02 594.64,136.65 594.72,126.42 594.79,117.49 594.87,109.98 594.95,104.00 595.03,99.64 595.10,96.97 595.18,96.03 595.26,96.84 595.33,99.39 595.41,103.66 595.49,109.57 595.57,117.07 595.64,126.04 595.72,136.36 595.80,147.88 595.88,160.46 595.95,173.92 596.03,188.06 596.11,202.69 596.18,217.62 596.26,232.62 596.34,247.49 596.42,262.01 596.49,276.00 596.57,289.23 596.65,301.54 596.73,312.74 596.80,322.67 596.88,331.19 596.96,338.18 597.04,343.53 597.11,347.16 597.19,349.02 597.27,349.07 597.34,347.31 597.42,343.74 597.50,338.42 597.58,331.41 597.65,322.80 597.73,312.69 597.81,301.23 597.89,288.56 597.96,274.86 598.04,260.29 598.12,245.06 598.19,229.37 598.27,213.42 598.35,197.44 598.43,181.63 598.50,166.21 598.58,151.39 598.66,137.36 598.74,124.31 598.81,112.42 598.89,101.84 598.97,92.73 599.04,85.20 599.12,79.35 599.20,75.27 599.28,73.00 599.35,72.58 599.43,74.02 599.51,77.30 599.59,82.38 599.66,89.18 599.74,97.62 599.82,107.59 599.89,118.96 599.97,131.58 600.05,145.28 600.13,159.88 600.20,175.19 600.28,191.02 600.36,207.15 600.44,223.38 600.51,239.50 600.59,255.29 600.67,270.55 600.75,285.10 600.82,298.74 600.90,311.30 600.98,322.63 601.05,332.58 601.13,341.04 601.21,347.89 601.29,353.07 601.36,356.51 601.44,358.18 601.52,358.07 601.60,356.18 601.67,352.57 601.75,347.28 601.83,340.40 601.90,332.02 601.98,322.27 602.06,311.28 602.14,299.20 602.21,286.19 602.29,272.44 602.37,258.12 602.45,243.42 602.52,228.54 602.60,213.67 602.68,199.00 602.75,184.71 602.83,170.99 602.91,158.00 602.99,145.90 603.06,134.84 603.14,124.95 603.22,116.33 603.30,109.09 603.37,103.29 603.45,98.99 603.53,96.23 603.61,95.01 603.68,95.33 603.76,97.16 603.84,100.46 603.91,105.14 603.99,111.14 604.07,118.35 604.15,126.65 604.22,135.91 604.30,146.00 604.38,156.77 604.46,168.06 604.53,179.70 604.61,191.55 604.69,203.44 604.76,215.21 604.84,226.70 604.92,237.77 605.00,248.28 605.07,258.09 605.15,267.11 605.23,275.21 605.31,282.32 605.38,288.36 605.46,293.27 605.54,297.02 605.61,299.59 605.69,300.97 605.77,301.18 605.85,300.25 605.92,298.22 606.00,295.15 606.08,291.12 606.16,286.21 606.23,280.52 606.31,274.17 606.39,267.25 606.46,259.90 606.54,252.24 606.62,244.39 606.70,236.47 606.77,228.61 606.85,220.93 606.93,213.54 607.01,206.54 607.08,200.04 607.16,194.11 607.24,188.83 607.32,184.27 607.39,180.48 607.47,177.48 607.55,175.30 607.62,173.95 607.70,173.42 607.78,173.69 607.86,174.72 607.93,176.48 608.01,178.90 608.09,181.91 608.17,185.44 608.24,189.41 608.32,193.72 608.40,198.28 608.47,202.99 608.55,207.75 608.63,212.47 608.71,217.05 608.78,221.39 608.86,225.42 608.94,229.04 609.02,232.20 609.09,234.83 609.17,236.88 609.25,238.31 609.32,239.08 609.40,239.20 609.48,238.65 609.56,237.44 609.63,235.59 609.71,233.15 609.79,230.15 609.87,226.66 609.94,222.74 610.02,218.46 610.10,213.92 610.17,209.19 610.25,204.37 610.33,199.56 610.41,194.85 610.48,190.35 610.56,186.13 610.64,182.31 610.72,178.95 610.79,176.15 610.87,173.97 610.95,172.47 611.03,171.70 611.10,171.70 611.18,172.49 611.26,174.10 611.33,176.51 611.41,179.71 611.49,183.68 611.57,188.37 611.64,193.74 611.72,199.70 611.80,206.19 611.88,213.11 611.95,220.38 612.03,227.88 612.11,235.51 612.18,243.14 612.26,250.67 612.34,257.97 612.42,264.92 612.49,271.42 612.57,277.34 612.65,282.60 612.73,287.08 612.80,290.72 612.88,293.42 612.96,295.13 613.03,295.80 613.11,295.40 613.19,293.91 613.27,291.32 613.34,287.65 613.42,282.92 613.50,277.18 613.58,270.50 613.65,262.94 613.73,254.59 613.81,245.56 613.89,235.96 613.96,225.92 614.04,215.55 614.12,205.01 614.19,194.43 614.27,183.96 614.35,173.74 614.43,163.92 614.50,154.63 614.58,146.02 614.66,138.20 614.74,131.30 614.81,125.42 614.89,120.65 614.97,117.07 615.04,114.74 615.12,113.71 615.20,114.01 615.28,115.65 615.35,118.61 615.43,122.88 615.51,128.40 615.59,135.11 615.66,142.94 615.74,151.78 615.82,161.53 615.89,172.07 615.97,183.25 616.05,194.93 616.13,206.96 616.20,219.17 616.28,231.41 616.36,243.51 616.44,255.31 616.51,266.64 616.59,277.35 616.67,287.29 616.74,296.33 616.82,304.34 616.90,311.20 616.98,316.83 617.05,321.14 617.13,324.06 617.21,325.56 617.29,325.61 617.36,324.21 617.44,321.37 617.52,317.13 617.60,311.54 617.67,304.68 617.75,296.64 617.83,287.53 617.90,277.48 617.98,266.61 618.06,255.09 618.14,243.06 618.21,230.70 618.29,218.18 618.37,205.66 618.45,193.32 618.52,181.34 618.60,169.88 618.68,159.11 618.75,149.16 618.83,140.18 618.91,132.29 618.99,125.61 619.06,120.23 619.14,116.22 619.22,113.64 619.30,112.53 619.37,112.89 619.45,114.72 619.53,118.00 619.60,122.67 619.68,128.67 619.76,135.91 619.84,144.29 619.91,153.68 619.99,163.96 620.07,174.96 620.15,186.53 620.22,198.51 620.30,210.71 620.38,222.97 620.45,235.10 620.53,246.92 620.61,258.27 620.69,268.98 620.76,278.89 620.84,287.85 620.92,295.73 621.00,302.41 621.07,307.80 621.15,311.81 621.23,314.39 621.31,315.48 621.38,315.07 621.46,313.17 621.54,309.79 621.61,304.99 621.69,298.83 621.77,291.39 621.85,282.79 621.92,273.14 622.00,262.59 622.08,251.28 622.16,239.39 622.23,227.08 622.31,214.54 622.39,201.96 622.46,189.51 622.54,177.39 622.62,165.77 622.70,154.83 622.77,144.75 622.85,135.66 622.93,127.73 623.01,121.06 623.08,115.77 623.16,111.95 623.24,109.67 623.31,108.97 623.39,109.87 623.47,112.38 623.55,116.48 623.62,122.11 623.70,129.21 623.78,137.69 623.86,147.44 623.93,158.33 624.01,170.21 624.09,182.92 624.17,196.29 624.24,210.12 624.32,224.23 624.40,238.42 624.47,252.48 624.55,266.20 624.63,279.40 624.71,291.87 624.78,303.44 624.86,313.92 624.94,323.16 625.02,331.01 625.09,337.36 625.17,342.09 625.25,345.12 625.32,346.38 625.40,345.86 625.48,343.52 625.56,339.39 625.63,333.50 625.71,325.92 625.79,316.73 625.87,306.05 625.94,294.00 626.02,280.74 626.10,266.43 626.17,251.27 626.25,235.44 626.33,219.17 626.41,202.65 626.48,186.13 626.56,169.81 626.64,153.92 626.72,138.68 626.79,124.31 626.87,110.99 626.95,98.92 627.02,88.27 627.10,79.19 627.18,71.83 627.26,66.28 627.33,62.64 627.41,60.97 627.49,61.32 627.57,63.68 627.64,68.04 627.72,74.37 627.80,82.58 627.88,92.59 627.95,104.28 628.03,117.50 628.11,132.10 628.18,147.88 628.26,164.65 628.34,182.21 628.42,200.32 628.49,218.75 628.57,237.26 628.65,255.63 628.73,273.60 628.80,290.95 628.88,307.45 628.96,322.88 629.03,337.04 629.11,349.74 629.19,360.82 629.27,370.13 629.34,377.54 629.42,382.96 629.50,386.31 629.58,387.55 629.65,386.64 629.73,383.61 629.81,378.48 629.88,371.32 629.96,362.22 630.04,351.29 630.12,338.68 630.19,324.53 630.27,309.03 630.35,292.38 630.43,274.79 630.50,256.48 630.58,237.68 630.66,218.64 630.73,199.59 630.81,180.78 630.89,162.44 630.97,144.81 631.04,128.10 631.12,112.53 631.20,98.29 631.28,85.56 631.35,74.48 631.43,65.21 631.51,57.84 631.59,52.46 631.66,49.13 631.74,47.89 631.82,48.73 631.89,51.65 631.97,56.58 632.05,63.46 632.13,72.19 632.20,82.64 632.28,94.68 632.36,108.13 632.44,122.83 632.51,138.56 632.59,155.13 632.67,172.32 632.74,189.91 632.82,207.66 632.90,225.36 632.98,242.77 633.05,259.68 633.13,275.87 633.21,291.15 633.29,305.33 633.36,318.24 633.44,329.72 633.52,339.66 633.59,347.92 633.67,354.44 633.75,359.13 633.83,361.98 633.90,362.95 633.98,362.07 634.06,359.36 634.14,354.89 634.21,348.73 634.29,340.99 634.37,331.79 634.45,321.27 634.52,309.59 634.60,296.92 634.68,283.43 634.75,269.32 634.83,254.78 634.91,240.02 634.99,225.22 635.06,210.58 635.14,196.31 635.22,182.57 635.30,169.55 635.37,157.40 635.45,146.28 635.53,136.31 635.60,127.61 635.68,120.27 635.76,114.37 635.84,109.96 635.91,107.07 635.99,105.71 636.07,105.88 636.15,107.53 636.22,110.62 636.30,115.08 636.38,120.81 636.45,127.71 636.53,135.66 636.61,144.52 636.69,154.16 636.76,164.41 636.84,175.12 636.92,186.13 637.00,197.26 637.07,208.37 637.15,219.28 637.23,229.85 637.30,239.92 637.38,249.36 637.46,258.05 637.54,265.87 637.61,272.72 637.69,278.53 637.77,283.23 637.85,286.76 637.92,289.12 638.00,290.28 638.08,290.25 638.16,289.05 638.23,286.74 638.31,283.38 638.39,279.03 638.46,273.78 638.54,267.74 638.62,261.02 638.70,253.74 638.77,246.03 638.85,238.02 638.93,229.84 639.01,221.64 639.08,213.54 639.16,205.68 639.24,198.19 639.31,191.18 639.39,184.76 639.47,179.03 639.55,174.08 639.62,169.98 639.70,166.79 639.78,164.55 639.86,163.29 639.93,163.02 640.01,163.74 640.09,165.42 640.16,168.03 640.24,171.52 640.32,175.83 640.40,180.87 640.47,186.56 640.55,192.79 640.63,199.46 640.71,206.45 640.78,213.65 640.86,220.94 640.94,228.17 641.01,235.25 641.09,242.04 641.17,248.43 641.25,254.31 641.32,259.58 641.40,264.16 641.48,267.95 641.56,270.90 641.63,272.95 641.71,274.06 641.79,274.22 641.87,273.40 641.94,271.61 642.02,268.88 642.10,265.25 642.17,260.76 642.25,255.49 642.33,249.50 642.41,242.89 642.48,235.75 642.56,228.21 642.64,220.36 642.72,212.33 642.79,204.24 642.87,196.22 642.95,188.39 643.02,180.87 643.10,173.79 643.18,167.25 643.26,161.35 643.33,156.20 643.41,151.88 643.49,148.45 643.57,145.97 643.64,144.50 643.72,144.06 643.80,144.65 643.87,146.30 643.95,148.96 644.03,152.62 644.11,157.23 644.18,162.72 644.26,169.02 644.34,176.04 644.42,183.68 644.49,191.85 644.57,200.41 644.65,209.25 644.73,218.24 644.80,227.26 644.88,236.17 644.96,244.84 645.03,253.16 645.11,260.99 645.19,268.23 645.27,274.78 645.34,280.53 645.42,285.40 645.50,289.33 645.58,292.25 645.65,294.12 645.73,294.93 645.81,294.64 645.88,293.28 645.96,290.86 646.04,287.41 646.12,282.99 646.19,277.66 646.27,271.50 646.35,264.60 646.43,257.05 646.50,248.98 646.58,240.49 646.66,231.72 646.73,222.78 646.81,213.81 646.89,204.94 646.97,196.30 647.04,188.00 647.12,180.18 647.20,172.93 647.28,166.37 647.35,160.58 647.43,155.65 647.51,151.64 647.58,148.61 647.66,146.60 647.74,145.62 647.82,145.69 647.89,146.80 647.97,148.92 648.05,152.02 648.13,156.04 648.20,160.91 648.28,166.57 648.36,172.90 648.44,179.81 648.51,187.20 648.59,194.94 648.67,202.91 648.74,210.99 648.82,219.05 648.90,226.96 648.98,234.61 649.05,241.86 649.13,248.61 649.21,254.76 649.29,260.21 649.36,264.87 649.44,268.68 649.52,271.58 649.59,273.52 649.67,274.48 649.75,274.44 649.83,273.41 649.90,271.41 649.98,268.47 650.06,264.64 650.14,259.99 650.21,254.59 650.29,248.54 650.37,241.93 650.44,234.88 650.52,227.50 650.60,219.91 650.68,212.25 650.75,204.63 650.83,197.20 650.91,190.07 650.99,183.37 651.06,177.22 651.14,171.72 651.22,166.97 651.30,163.06 651.37,160.06 651.45,158.04 651.53,157.04 651.60,157.08 651.68,158.19 651.76,160.35 651.84,163.55 651.91,167.75 651.99,172.89 652.07,178.91 652.15,185.71 652.22,193.21 652.30,201.28 652.38,209.82 652.45,218.68 652.53,227.73 652.61,236.84 652.69,245.85 652.76,254.61 652.84,263.00 652.92,270.85 653.00,278.05 653.07,284.45 653.15,289.96 653.23,294.45 653.30,297.85 653.38,300.07 653.46,301.06 653.54,300.77 653.61,299.18 653.69,296.30 653.77,292.12 653.85,286.70 653.92,280.08 654.00,272.33 654.08,263.55 654.15,253.85 654.23,243.34 654.31,232.16 654.39,220.47 654.46,208.41 654.54,196.17 654.62,183.90 654.70,171.78 654.77,160.00 654.85,148.72 654.93,138.11 655.01,128.34 655.08,119.56 655.16,111.91 655.24,105.52 655.31,100.50 655.39,96.95 655.47,94.94 655.55,94.53 655.62,95.76 655.70,98.63 655.78,103.13 655.86,109.23 655.93,116.88 656.01,125.99 656.09,136.47 656.16,148.20 656.24,161.03 656.32,174.83 656.40,189.40 656.47,204.59 656.55,220.17 656.63,235.97 656.71,251.77 656.78,267.36 656.86,282.53 656.94,297.09 657.01,310.82 657.09,323.53 657.17,335.06 657.25,345.23 657.32,353.89 657.40,360.91 657.48,366.19 657.56,369.63 657.63,371.17 657.71,370.76 657.79,368.40 657.86,364.10 657.94,357.89 658.02,349.83 658.10,340.01 658.17,328.54 658.25,315.55 658.33,301.20 658.41,285.66 658.48,269.12 658.56,251.78 658.64,233.86 658.72,215.59 658.79,197.19 658.87,178.90 658.95,160.96 659.02,143.59 659.10,127.02 659.18,111.47 659.26,97.13 659.33,84.20 659.41,72.85 659.49,63.22 659.57,55.46 659.64,49.66 659.72,45.91 659.80,44.27 659.87,44.75 659.95,47.36 660.03,52.07 660.11,58.83 660.18,67.56 660.26,78.16 660.34,90.48 660.42,104.38 660.49,119.68 660.57,136.19 660.65,153.70 660.72,171.99 660.80,190.83 660.88,209.98 660.96,229.20 661.03,248.24 661.11,266.86 661.19,284.83 661.27,301.92 661.34,317.90 661.42,332.59 661.50,345.79 661.58,357.34 661.65,367.10 661.73,374.95 661.81,380.79 661.88,384.55 661.96,386.20 662.04,385.71 662.12,383.11 662.19,378.43 662.27,371.74 662.35,363.14 662.43,352.74 662.50,340.69 662.58,327.15 662.66,312.30 662.73,296.34 662.81,279.48 662.89,261.94 662.97,243.96 663.04,225.77 663.12,207.60 663.20,189.69 663.28,172.28 663.35,155.58 663.43,139.80 663.51,125.16 663.58,111.81 663.66,99.95 663.74,89.69 663.82,81.17 663.89,74.49 663.97,69.72 664.05,66.89 664.13,66.05 664.20,67.16 664.28,70.22 664.36,75.15 664.43,81.87 664.51,90.29 664.59,100.26 664.67,111.64 664.74,124.27 664.82,137.96 664.90,152.52 664.98,167.74 665.05,183.42 665.13,199.33 665.21,215.26 665.29,230.99 665.36,246.31 665.44,261.02 665.52,274.92 665.59,287.83 665.67,299.59 665.75,310.04 665.83,319.06 665.90,326.53 665.98,332.38 666.06,336.54 666.14,338.96 666.21,339.65 666.29,338.59 666.37,335.84 666.44,331.44 666.52,325.49 666.60,318.07 666.68,309.31 666.75,299.35 666.83,288.34 666.91,276.46 666.99,263.87 667.06,250.77 667.14,237.36 667.22,223.81 667.29,210.34 667.37,197.14 667.45,184.39 667.53,172.27 667.60,160.96 667.68,150.60 667.76,141.35 667.84,133.32 667.91,126.62 667.99,121.34 668.07,117.55 668.14,115.27 668.22,114.55 668.30,115.37 668.38,117.71 668.45,121.52 668.53,126.74 668.61,133.28 668.69,141.03 668.76,149.87 668.84,159.66 668.92,170.26 669.00,181.49 669.07,193.19 669.15,205.18 669.23,217.29 669.30,229.33 669.38,241.12 669.46,252.48 669.54,263.26 669.61,273.29 669.69,282.43 669.77,290.54 669.85,297.51 669.92,303.23 670.00,307.62"/>
<text x="380.3" y="487.8" text-anchor="middle" font-size="22.5">Time (sec)</text>
<text transform="translate(16.9,272.8) rotate(-90)" font-size="22.5" style="font-weight:normal" textLength="17.6" lengthAdjust="spacingAndGlyphs">Δ</text>
<text transform="translate(16.9,254.4) rotate(-90)" font-size="22.5" textLength="94.2" lengthAdjust="spacing">P PD (pu)</text>
<rect x="348.3" y="5.5" width="292.3" height="27" fill="#fff" stroke="#262626" stroke-width="1"/>
<path d="M354.0 19.0H415.1" stroke="#ff0000" stroke-width="1.2"/>
<text x="420.9" y="26.3" font-size="18.35">Load Demand Distribution</text>
</svg></body></html>
